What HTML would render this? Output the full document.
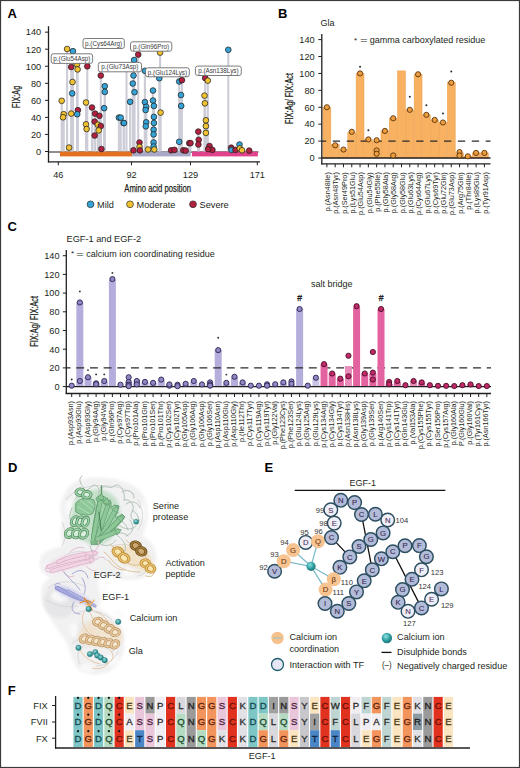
<!DOCTYPE html><html><head><meta charset="utf-8"><style>html,body{margin:0;padding:0;background:#fff;}svg{display:block;}text{font-family:"Liberation Sans", sans-serif;}</style></head><body>
<svg width="520" height="768" viewBox="0 0 520 768">
<rect x="0.00" y="0.00" width="520.00" height="768.00" fill="#fff" />
<text x="7.60" y="17.60" font-size="13" text-anchor="start" fill="#000" font-weight="bold" >A</text>
<text x="277.90" y="17.50" font-size="13" text-anchor="start" fill="#000" font-weight="bold" >B</text>
<text x="7.40" y="230.60" font-size="13" text-anchor="start" fill="#000" font-weight="bold" >C</text>
<text x="7.90" y="472.00" font-size="13" text-anchor="start" fill="#000" font-weight="bold" >D</text>
<text x="264.40" y="472.00" font-size="13" text-anchor="start" fill="#000" font-weight="bold" >E</text>
<text x="7.80" y="695.10" font-size="13" text-anchor="start" fill="#000" font-weight="bold" >F</text>
<line x1="48.50" y1="151.90" x2="258.50" y2="151.90" stroke="#6a6a6a" stroke-width="1.5" />
<line x1="67.10" y1="49.00" x2="67.10" y2="151.50" stroke="#cdcdd8" stroke-width="2.1" />
<line x1="72.90" y1="51.20" x2="72.90" y2="151.50" stroke="#cdcdd8" stroke-width="2.1" />
<line x1="71.20" y1="67.00" x2="71.20" y2="151.50" stroke="#cdcdd8" stroke-width="2.1" />
<line x1="77.00" y1="64.30" x2="77.00" y2="151.50" stroke="#cdcdd8" stroke-width="2.1" />
<line x1="77.60" y1="69.40" x2="77.60" y2="151.50" stroke="#cdcdd8" stroke-width="2.1" />
<line x1="87.30" y1="66.30" x2="87.30" y2="151.50" stroke="#cdcdd8" stroke-width="2.1" />
<line x1="100.80" y1="75.50" x2="100.80" y2="151.50" stroke="#cdcdd8" stroke-width="2.1" />
<line x1="72.50" y1="82.00" x2="72.50" y2="151.50" stroke="#cdcdd8" stroke-width="2.1" />
<line x1="104.80" y1="86.20" x2="104.80" y2="151.50" stroke="#cdcdd8" stroke-width="2.1" />
<line x1="104.80" y1="91.90" x2="104.80" y2="151.50" stroke="#cdcdd8" stroke-width="2.1" />
<line x1="72.20" y1="93.40" x2="72.20" y2="151.50" stroke="#cdcdd8" stroke-width="2.1" />
<line x1="61.70" y1="100.80" x2="61.70" y2="151.50" stroke="#cdcdd8" stroke-width="2.1" />
<line x1="86.00" y1="102.50" x2="86.00" y2="151.50" stroke="#cdcdd8" stroke-width="2.1" />
<line x1="92.00" y1="107.50" x2="92.00" y2="151.50" stroke="#cdcdd8" stroke-width="2.1" />
<line x1="104.10" y1="108.20" x2="104.10" y2="151.50" stroke="#cdcdd8" stroke-width="2.1" />
<line x1="77.90" y1="110.20" x2="77.90" y2="151.50" stroke="#cdcdd8" stroke-width="2.1" />
<line x1="63.70" y1="114.20" x2="63.70" y2="151.50" stroke="#cdcdd8" stroke-width="2.1" />
<line x1="63.10" y1="117.30" x2="63.10" y2="151.50" stroke="#cdcdd8" stroke-width="2.1" />
<line x1="71.20" y1="113.60" x2="71.20" y2="151.50" stroke="#cdcdd8" stroke-width="2.1" />
<line x1="77.20" y1="114.20" x2="77.20" y2="151.50" stroke="#cdcdd8" stroke-width="2.1" />
<line x1="95.10" y1="113.60" x2="95.10" y2="151.50" stroke="#cdcdd8" stroke-width="2.1" />
<line x1="99.40" y1="115.80" x2="99.40" y2="151.50" stroke="#cdcdd8" stroke-width="2.1" />
<line x1="118.90" y1="117.60" x2="118.90" y2="151.50" stroke="#cdcdd8" stroke-width="2.1" />
<line x1="123.60" y1="123.00" x2="123.60" y2="151.50" stroke="#cdcdd8" stroke-width="2.1" />
<line x1="94.70" y1="121.60" x2="94.70" y2="151.50" stroke="#cdcdd8" stroke-width="2.1" />
<line x1="97.80" y1="124.70" x2="97.80" y2="151.50" stroke="#cdcdd8" stroke-width="2.1" />
<line x1="100.80" y1="126.00" x2="100.80" y2="151.50" stroke="#cdcdd8" stroke-width="2.1" />
<line x1="86.00" y1="124.30" x2="86.00" y2="151.50" stroke="#cdcdd8" stroke-width="2.1" />
<line x1="86.60" y1="129.00" x2="86.60" y2="151.50" stroke="#cdcdd8" stroke-width="2.1" />
<line x1="98.70" y1="130.40" x2="98.70" y2="151.50" stroke="#cdcdd8" stroke-width="2.1" />
<line x1="94.70" y1="135.50" x2="94.70" y2="151.50" stroke="#cdcdd8" stroke-width="2.1" />
<line x1="69.10" y1="147.60" x2="69.10" y2="151.50" stroke="#cdcdd8" stroke-width="2.1" />
<line x1="101.40" y1="149.00" x2="101.40" y2="151.50" stroke="#cdcdd8" stroke-width="2.1" />
<line x1="138.20" y1="54.60" x2="138.20" y2="151.50" stroke="#cdcdd8" stroke-width="2.1" />
<line x1="160.10" y1="52.60" x2="160.10" y2="151.50" stroke="#cdcdd8" stroke-width="2.1" />
<line x1="134.10" y1="60.00" x2="134.10" y2="151.50" stroke="#cdcdd8" stroke-width="2.1" />
<line x1="133.50" y1="75.50" x2="133.50" y2="151.50" stroke="#cdcdd8" stroke-width="2.1" />
<line x1="132.80" y1="83.50" x2="132.80" y2="151.50" stroke="#cdcdd8" stroke-width="2.1" />
<line x1="134.50" y1="92.20" x2="134.50" y2="151.50" stroke="#cdcdd8" stroke-width="2.1" />
<line x1="153.00" y1="90.50" x2="153.00" y2="151.50" stroke="#cdcdd8" stroke-width="2.1" />
<line x1="159.30" y1="78.20" x2="159.30" y2="151.50" stroke="#cdcdd8" stroke-width="2.1" />
<line x1="179.20" y1="81.50" x2="179.20" y2="151.50" stroke="#cdcdd8" stroke-width="2.1" />
<line x1="181.90" y1="80.20" x2="181.90" y2="151.50" stroke="#cdcdd8" stroke-width="2.1" />
<line x1="181.00" y1="95.00" x2="181.00" y2="151.50" stroke="#cdcdd8" stroke-width="2.1" />
<line x1="144.90" y1="70.80" x2="144.90" y2="151.50" stroke="#cdcdd8" stroke-width="2.1" />
<line x1="126.50" y1="67.00" x2="126.50" y2="151.50" stroke="#cdcdd8" stroke-width="2.1" />
<line x1="130.10" y1="101.80" x2="130.10" y2="151.50" stroke="#cdcdd8" stroke-width="2.1" />
<line x1="144.90" y1="102.10" x2="144.90" y2="151.50" stroke="#cdcdd8" stroke-width="2.1" />
<line x1="153.00" y1="100.50" x2="153.00" y2="151.50" stroke="#cdcdd8" stroke-width="2.1" />
<line x1="146.20" y1="106.80" x2="146.20" y2="151.50" stroke="#cdcdd8" stroke-width="2.1" />
<line x1="145.60" y1="110.00" x2="145.60" y2="151.50" stroke="#cdcdd8" stroke-width="2.1" />
<line x1="153.90" y1="105.90" x2="153.90" y2="151.50" stroke="#cdcdd8" stroke-width="2.1" />
<line x1="181.20" y1="105.90" x2="181.20" y2="151.50" stroke="#cdcdd8" stroke-width="2.1" />
<line x1="160.60" y1="112.60" x2="160.60" y2="151.50" stroke="#cdcdd8" stroke-width="2.1" />
<line x1="120.70" y1="117.60" x2="120.70" y2="151.50" stroke="#cdcdd8" stroke-width="2.1" />
<line x1="124.00" y1="123.00" x2="124.00" y2="151.50" stroke="#cdcdd8" stroke-width="2.1" />
<line x1="153.90" y1="116.90" x2="153.90" y2="151.50" stroke="#cdcdd8" stroke-width="2.1" />
<line x1="146.20" y1="122.30" x2="146.20" y2="151.50" stroke="#cdcdd8" stroke-width="2.1" />
<line x1="145.80" y1="126.30" x2="145.80" y2="151.50" stroke="#cdcdd8" stroke-width="2.1" />
<line x1="153.90" y1="123.00" x2="153.90" y2="151.50" stroke="#cdcdd8" stroke-width="2.1" />
<line x1="153.60" y1="129.70" x2="153.60" y2="151.50" stroke="#cdcdd8" stroke-width="2.1" />
<line x1="153.60" y1="134.40" x2="153.60" y2="151.50" stroke="#cdcdd8" stroke-width="2.1" />
<line x1="153.60" y1="142.50" x2="153.60" y2="151.50" stroke="#cdcdd8" stroke-width="2.1" />
<line x1="179.20" y1="141.80" x2="179.20" y2="151.50" stroke="#cdcdd8" stroke-width="2.1" />
<line x1="139.50" y1="142.50" x2="139.50" y2="151.50" stroke="#cdcdd8" stroke-width="2.1" />
<line x1="139.50" y1="146.80" x2="139.50" y2="151.50" stroke="#cdcdd8" stroke-width="2.1" />
<line x1="153.60" y1="146.50" x2="153.60" y2="151.50" stroke="#cdcdd8" stroke-width="2.1" />
<line x1="133.50" y1="150.30" x2="133.50" y2="151.50" stroke="#cdcdd8" stroke-width="2.1" />
<line x1="139.90" y1="150.30" x2="139.90" y2="151.50" stroke="#cdcdd8" stroke-width="2.1" />
<line x1="148.00" y1="149.50" x2="148.00" y2="151.50" stroke="#cdcdd8" stroke-width="2.1" />
<line x1="154.30" y1="149.50" x2="154.30" y2="151.50" stroke="#cdcdd8" stroke-width="2.1" />
<line x1="171.10" y1="150.30" x2="171.10" y2="151.50" stroke="#cdcdd8" stroke-width="2.1" />
<line x1="174.50" y1="149.90" x2="174.50" y2="151.50" stroke="#cdcdd8" stroke-width="2.1" />
<line x1="183.30" y1="150.30" x2="183.30" y2="151.50" stroke="#cdcdd8" stroke-width="2.1" />
<line x1="189.30" y1="143.20" x2="189.30" y2="151.50" stroke="#cdcdd8" stroke-width="2.1" />
<line x1="228.30" y1="49.80" x2="228.30" y2="151.50" stroke="#cdcdd8" stroke-width="2.1" />
<line x1="205.20" y1="78.10" x2="205.20" y2="151.50" stroke="#cdcdd8" stroke-width="2.1" />
<line x1="207.80" y1="80.60" x2="207.80" y2="151.50" stroke="#cdcdd8" stroke-width="2.1" />
<line x1="204.50" y1="95.60" x2="204.50" y2="151.50" stroke="#cdcdd8" stroke-width="2.1" />
<line x1="204.90" y1="103.30" x2="204.90" y2="151.50" stroke="#cdcdd8" stroke-width="2.1" />
<line x1="205.90" y1="120.30" x2="205.90" y2="151.50" stroke="#cdcdd8" stroke-width="2.1" />
<line x1="205.90" y1="126.10" x2="205.90" y2="151.50" stroke="#cdcdd8" stroke-width="2.1" />
<line x1="205.90" y1="132.90" x2="205.90" y2="151.50" stroke="#cdcdd8" stroke-width="2.1" />
<line x1="198.30" y1="131.60" x2="198.30" y2="151.50" stroke="#cdcdd8" stroke-width="2.1" />
<line x1="190.50" y1="143.10" x2="190.50" y2="151.50" stroke="#cdcdd8" stroke-width="2.1" />
<line x1="198.70" y1="139.80" x2="198.70" y2="151.50" stroke="#cdcdd8" stroke-width="2.1" />
<line x1="198.40" y1="144.50" x2="198.40" y2="151.50" stroke="#cdcdd8" stroke-width="2.1" />
<line x1="209.50" y1="146.00" x2="209.50" y2="151.50" stroke="#cdcdd8" stroke-width="2.1" />
<line x1="212.40" y1="149.90" x2="212.40" y2="151.50" stroke="#cdcdd8" stroke-width="2.1" />
<line x1="208.10" y1="149.20" x2="208.10" y2="151.50" stroke="#cdcdd8" stroke-width="2.1" />
<line x1="231.20" y1="147.70" x2="231.20" y2="151.50" stroke="#cdcdd8" stroke-width="2.1" />
<line x1="231.50" y1="149.90" x2="231.50" y2="151.50" stroke="#cdcdd8" stroke-width="2.1" />
<line x1="235.50" y1="149.90" x2="235.50" y2="151.50" stroke="#cdcdd8" stroke-width="2.1" />
<line x1="239.50" y1="144.50" x2="239.50" y2="151.50" stroke="#cdcdd8" stroke-width="2.1" />
<line x1="239.80" y1="148.40" x2="239.80" y2="151.50" stroke="#cdcdd8" stroke-width="2.1" />
<line x1="242.00" y1="150.30" x2="242.00" y2="151.50" stroke="#cdcdd8" stroke-width="2.1" />
<line x1="249.20" y1="150.60" x2="249.20" y2="151.50" stroke="#cdcdd8" stroke-width="2.1" />
<line x1="185.70" y1="150.60" x2="185.70" y2="151.50" stroke="#cdcdd8" stroke-width="2.1" />
<rect x="59.90" y="151.60" width="72.30" height="4.80" fill="#e3701f" />
<rect x="132.20" y="151.60" width="58.40" height="4.80" fill="#a9a8c6" />
<rect x="192.00" y="151.60" width="65.90" height="4.80" fill="#e2428b" />
<circle cx="67.10" cy="49.00" r="2.85" fill="#f1c232" stroke="#222" stroke-width="0.75" />
<circle cx="72.90" cy="51.20" r="2.85" fill="#35a3d6" stroke="#222" stroke-width="0.75" />
<circle cx="71.20" cy="67.00" r="2.85" fill="#b2203f" stroke="#222" stroke-width="0.75" />
<circle cx="77.00" cy="64.30" r="2.85" fill="#f1c232" stroke="#222" stroke-width="0.75" />
<circle cx="77.60" cy="69.40" r="2.85" fill="#f1c232" stroke="#222" stroke-width="0.75" />
<circle cx="87.30" cy="66.30" r="2.85" fill="#b2203f" stroke="#222" stroke-width="0.75" />
<circle cx="100.80" cy="75.50" r="2.85" fill="#b2203f" stroke="#222" stroke-width="0.75" />
<circle cx="72.50" cy="82.00" r="2.85" fill="#f1c232" stroke="#222" stroke-width="0.75" />
<circle cx="104.80" cy="86.20" r="2.85" fill="#35a3d6" stroke="#222" stroke-width="0.75" />
<circle cx="104.80" cy="91.90" r="2.85" fill="#35a3d6" stroke="#222" stroke-width="0.75" />
<circle cx="72.20" cy="93.40" r="2.85" fill="#35a3d6" stroke="#222" stroke-width="0.75" />
<circle cx="61.70" cy="100.80" r="2.85" fill="#f1c232" stroke="#222" stroke-width="0.75" />
<circle cx="86.00" cy="102.50" r="2.85" fill="#f1c232" stroke="#222" stroke-width="0.75" />
<circle cx="92.00" cy="107.50" r="2.85" fill="#b2203f" stroke="#222" stroke-width="0.75" />
<circle cx="104.10" cy="108.20" r="2.85" fill="#35a3d6" stroke="#222" stroke-width="0.75" />
<circle cx="77.90" cy="110.20" r="2.85" fill="#b2203f" stroke="#222" stroke-width="0.75" />
<circle cx="63.70" cy="114.20" r="2.85" fill="#f1c232" stroke="#222" stroke-width="0.75" />
<circle cx="63.10" cy="117.30" r="2.85" fill="#f1c232" stroke="#222" stroke-width="0.75" />
<circle cx="71.20" cy="113.60" r="2.85" fill="#f1c232" stroke="#222" stroke-width="0.75" />
<circle cx="77.20" cy="114.20" r="2.85" fill="#35a3d6" stroke="#222" stroke-width="0.75" />
<circle cx="95.10" cy="113.60" r="2.85" fill="#b2203f" stroke="#222" stroke-width="0.75" />
<circle cx="99.40" cy="115.80" r="2.85" fill="#b2203f" stroke="#222" stroke-width="0.75" />
<circle cx="118.90" cy="117.60" r="2.85" fill="#35a3d6" stroke="#222" stroke-width="0.75" />
<circle cx="123.60" cy="123.00" r="2.85" fill="#35a3d6" stroke="#222" stroke-width="0.75" />
<circle cx="94.70" cy="121.60" r="2.85" fill="#b2203f" stroke="#222" stroke-width="0.75" />
<circle cx="97.80" cy="124.70" r="2.85" fill="#f1c232" stroke="#222" stroke-width="0.75" />
<circle cx="100.80" cy="126.00" r="2.85" fill="#b2203f" stroke="#222" stroke-width="0.75" />
<circle cx="86.00" cy="124.30" r="2.85" fill="#f1c232" stroke="#222" stroke-width="0.75" />
<circle cx="86.60" cy="129.00" r="2.85" fill="#f1c232" stroke="#222" stroke-width="0.75" />
<circle cx="98.70" cy="130.40" r="2.85" fill="#f1c232" stroke="#222" stroke-width="0.75" />
<circle cx="94.70" cy="135.50" r="2.85" fill="#b2203f" stroke="#222" stroke-width="0.75" />
<circle cx="69.10" cy="147.60" r="2.85" fill="#f1c232" stroke="#222" stroke-width="0.75" />
<circle cx="101.40" cy="149.00" r="2.85" fill="#b2203f" stroke="#222" stroke-width="0.75" />
<circle cx="138.20" cy="54.60" r="2.85" fill="#b2203f" stroke="#222" stroke-width="0.75" />
<circle cx="160.10" cy="52.60" r="2.85" fill="#f1c232" stroke="#222" stroke-width="0.75" />
<circle cx="134.10" cy="60.00" r="2.85" fill="#35a3d6" stroke="#222" stroke-width="0.75" />
<circle cx="133.50" cy="75.50" r="2.85" fill="#35a3d6" stroke="#222" stroke-width="0.75" />
<circle cx="132.80" cy="83.50" r="2.85" fill="#35a3d6" stroke="#222" stroke-width="0.75" />
<circle cx="134.50" cy="92.20" r="2.85" fill="#35a3d6" stroke="#222" stroke-width="0.75" />
<circle cx="153.00" cy="90.50" r="2.85" fill="#35a3d6" stroke="#222" stroke-width="0.75" />
<circle cx="159.30" cy="78.20" r="2.85" fill="#35a3d6" stroke="#222" stroke-width="0.75" />
<circle cx="179.20" cy="81.50" r="2.85" fill="#35a3d6" stroke="#222" stroke-width="0.75" />
<circle cx="181.90" cy="80.20" r="2.85" fill="#b2203f" stroke="#222" stroke-width="0.75" />
<circle cx="181.00" cy="95.00" r="2.85" fill="#35a3d6" stroke="#222" stroke-width="0.75" />
<circle cx="144.90" cy="70.80" r="2.85" fill="#35a3d6" stroke="#222" stroke-width="0.75" />
<circle cx="126.50" cy="67.00" r="2.85" fill="#35a3d6" stroke="#222" stroke-width="0.75" />
<circle cx="130.10" cy="101.80" r="2.85" fill="#35a3d6" stroke="#222" stroke-width="0.75" />
<circle cx="144.90" cy="102.10" r="2.85" fill="#35a3d6" stroke="#222" stroke-width="0.75" />
<circle cx="153.00" cy="100.50" r="2.85" fill="#35a3d6" stroke="#222" stroke-width="0.75" />
<circle cx="146.20" cy="106.80" r="2.85" fill="#35a3d6" stroke="#222" stroke-width="0.75" />
<circle cx="145.60" cy="110.00" r="2.85" fill="#35a3d6" stroke="#222" stroke-width="0.75" />
<circle cx="153.90" cy="105.90" r="2.85" fill="#35a3d6" stroke="#222" stroke-width="0.75" />
<circle cx="181.20" cy="105.90" r="2.85" fill="#35a3d6" stroke="#222" stroke-width="0.75" />
<circle cx="160.60" cy="112.60" r="2.85" fill="#f1c232" stroke="#222" stroke-width="0.75" />
<circle cx="120.70" cy="117.60" r="2.85" fill="#35a3d6" stroke="#222" stroke-width="0.75" />
<circle cx="124.00" cy="123.00" r="2.85" fill="#35a3d6" stroke="#222" stroke-width="0.75" />
<circle cx="153.90" cy="116.90" r="2.85" fill="#35a3d6" stroke="#222" stroke-width="0.75" />
<circle cx="146.20" cy="122.30" r="2.85" fill="#35a3d6" stroke="#222" stroke-width="0.75" />
<circle cx="145.80" cy="126.30" r="2.85" fill="#35a3d6" stroke="#222" stroke-width="0.75" />
<circle cx="153.90" cy="123.00" r="2.85" fill="#35a3d6" stroke="#222" stroke-width="0.75" />
<circle cx="153.60" cy="129.70" r="2.85" fill="#35a3d6" stroke="#222" stroke-width="0.75" />
<circle cx="153.60" cy="134.40" r="2.85" fill="#35a3d6" stroke="#222" stroke-width="0.75" />
<circle cx="153.60" cy="142.50" r="2.85" fill="#35a3d6" stroke="#222" stroke-width="0.75" />
<circle cx="179.20" cy="141.80" r="2.85" fill="#35a3d6" stroke="#222" stroke-width="0.75" />
<circle cx="139.50" cy="142.50" r="2.85" fill="#b2203f" stroke="#222" stroke-width="0.75" />
<circle cx="139.50" cy="146.80" r="2.85" fill="#f1c232" stroke="#222" stroke-width="0.75" />
<circle cx="153.60" cy="146.50" r="2.85" fill="#35a3d6" stroke="#222" stroke-width="0.75" />
<circle cx="133.50" cy="150.30" r="2.85" fill="#b2203f" stroke="#222" stroke-width="0.75" />
<circle cx="139.90" cy="150.30" r="2.85" fill="#b2203f" stroke="#222" stroke-width="0.75" />
<circle cx="148.00" cy="149.50" r="2.85" fill="#f1c232" stroke="#222" stroke-width="0.75" />
<circle cx="154.30" cy="149.50" r="2.85" fill="#f1c232" stroke="#222" stroke-width="0.75" />
<circle cx="171.10" cy="150.30" r="2.85" fill="#b2203f" stroke="#222" stroke-width="0.75" />
<circle cx="174.50" cy="149.90" r="2.85" fill="#b2203f" stroke="#222" stroke-width="0.75" />
<circle cx="183.30" cy="150.30" r="2.85" fill="#b2203f" stroke="#222" stroke-width="0.75" />
<circle cx="189.30" cy="143.20" r="2.85" fill="#b2203f" stroke="#222" stroke-width="0.75" />
<circle cx="228.30" cy="49.80" r="2.85" fill="#35a3d6" stroke="#222" stroke-width="0.75" />
<circle cx="205.20" cy="78.10" r="2.85" fill="#b2203f" stroke="#222" stroke-width="0.75" />
<circle cx="207.80" cy="80.60" r="2.85" fill="#f1c232" stroke="#222" stroke-width="0.75" />
<circle cx="204.50" cy="95.60" r="2.85" fill="#f1c232" stroke="#222" stroke-width="0.75" />
<circle cx="204.90" cy="103.30" r="2.85" fill="#f1c232" stroke="#222" stroke-width="0.75" />
<circle cx="205.90" cy="120.30" r="2.85" fill="#f1c232" stroke="#222" stroke-width="0.75" />
<circle cx="205.90" cy="126.10" r="2.85" fill="#f1c232" stroke="#222" stroke-width="0.75" />
<circle cx="205.90" cy="132.90" r="2.85" fill="#f1c232" stroke="#222" stroke-width="0.75" />
<circle cx="198.30" cy="131.60" r="2.85" fill="#b2203f" stroke="#222" stroke-width="0.75" />
<circle cx="190.50" cy="143.10" r="2.85" fill="#b2203f" stroke="#222" stroke-width="0.75" />
<circle cx="198.70" cy="139.80" r="2.85" fill="#b2203f" stroke="#222" stroke-width="0.75" />
<circle cx="198.40" cy="144.50" r="2.85" fill="#b2203f" stroke="#222" stroke-width="0.75" />
<circle cx="209.50" cy="146.00" r="2.85" fill="#b2203f" stroke="#222" stroke-width="0.75" />
<circle cx="212.40" cy="149.90" r="2.85" fill="#b2203f" stroke="#222" stroke-width="0.75" />
<circle cx="208.10" cy="149.20" r="2.85" fill="#b2203f" stroke="#222" stroke-width="0.75" />
<circle cx="231.20" cy="147.70" r="2.85" fill="#b2203f" stroke="#222" stroke-width="0.75" />
<circle cx="231.50" cy="149.90" r="2.85" fill="#35a3d6" stroke="#222" stroke-width="0.75" />
<circle cx="235.50" cy="149.90" r="2.85" fill="#b2203f" stroke="#222" stroke-width="0.75" />
<circle cx="239.50" cy="144.50" r="2.85" fill="#35a3d6" stroke="#222" stroke-width="0.75" />
<circle cx="239.80" cy="148.40" r="2.85" fill="#f1c232" stroke="#222" stroke-width="0.75" />
<circle cx="242.00" cy="150.30" r="2.85" fill="#f1c232" stroke="#222" stroke-width="0.75" />
<circle cx="249.20" cy="150.60" r="2.85" fill="#b2203f" stroke="#222" stroke-width="0.75" />
<circle cx="185.70" cy="150.60" r="2.85" fill="#b2203f" stroke="#222" stroke-width="0.75" />
<rect x="83.00" y="38.50" width="41.30" height="10.00" rx="2.2" fill="#fff" stroke="#5a5a5a" stroke-width="0.8"/>
<text x="103.65" y="45.70" font-size="6.3" text-anchor="middle" fill="#3a3a3a" font-weight="normal" >p.(Cys64Arg)</text>
<rect x="51.20" y="53.80" width="41.40" height="9.60" rx="2.2" fill="#fff" stroke="#5a5a5a" stroke-width="0.8"/>
<text x="71.90" y="60.80" font-size="6.3" text-anchor="middle" fill="#3a3a3a" font-weight="normal" >p.(Glu54Asp)</text>
<rect x="98.30" y="62.40" width="43.20" height="9.40" rx="2.2" fill="#fff" stroke="#5a5a5a" stroke-width="0.8"/>
<text x="119.90" y="69.30" font-size="6.3" text-anchor="middle" fill="#3a3a3a" font-weight="normal" >p.(Glu73Asp)</text>
<rect x="130.50" y="41.80" width="41.30" height="9.40" rx="2.2" fill="#fff" stroke="#5a5a5a" stroke-width="0.8"/>
<text x="151.15" y="48.70" font-size="6.3" text-anchor="middle" fill="#3a3a3a" font-weight="normal" >p.(Gln96Pro)</text>
<rect x="145.60" y="67.80" width="43.70" height="9.00" rx="2.2" fill="#fff" stroke="#5a5a5a" stroke-width="0.8"/>
<text x="167.45" y="74.50" font-size="6.3" text-anchor="middle" fill="#3a3a3a" font-weight="normal" >p.(Glu124Lys)</text>
<rect x="195.40" y="66.10" width="45.90" height="9.40" rx="2.2" fill="#fff" stroke="#5a5a5a" stroke-width="0.8"/>
<text x="218.35" y="73.00" font-size="6.3" text-anchor="middle" fill="#3a3a3a" font-weight="normal" >p.(Asn138Lys)</text>
<line x1="48.50" y1="26.20" x2="48.50" y2="162.40" stroke="#231f20" stroke-width="1.3" />
<line x1="47.85" y1="161.80" x2="260.00" y2="161.80" stroke="#231f20" stroke-width="1.3" />
<line x1="45.00" y1="151.50" x2="48.50" y2="151.50" stroke="#231f20" stroke-width="1.0" />
<text x="41.20" y="154.80" font-size="9.2" text-anchor="end" fill="#231f20" font-weight="normal" >0</text>
<line x1="45.00" y1="134.45" x2="48.50" y2="134.45" stroke="#231f20" stroke-width="1.0" />
<text x="41.20" y="137.75" font-size="9.2" text-anchor="end" fill="#231f20" font-weight="normal" >20</text>
<line x1="45.00" y1="117.40" x2="48.50" y2="117.40" stroke="#231f20" stroke-width="1.0" />
<text x="41.20" y="120.70" font-size="9.2" text-anchor="end" fill="#231f20" font-weight="normal" >40</text>
<line x1="45.00" y1="100.35" x2="48.50" y2="100.35" stroke="#231f20" stroke-width="1.0" />
<text x="41.20" y="103.65" font-size="9.2" text-anchor="end" fill="#231f20" font-weight="normal" >60</text>
<line x1="45.00" y1="83.30" x2="48.50" y2="83.30" stroke="#231f20" stroke-width="1.0" />
<text x="41.20" y="86.60" font-size="9.2" text-anchor="end" fill="#231f20" font-weight="normal" >80</text>
<line x1="45.00" y1="66.25" x2="48.50" y2="66.25" stroke="#231f20" stroke-width="1.0" />
<text x="41.20" y="69.55" font-size="9.2" text-anchor="end" fill="#231f20" font-weight="normal" >100</text>
<line x1="45.00" y1="49.20" x2="48.50" y2="49.20" stroke="#231f20" stroke-width="1.0" />
<text x="41.20" y="52.50" font-size="9.2" text-anchor="end" fill="#231f20" font-weight="normal" >120</text>
<line x1="45.00" y1="32.15" x2="48.50" y2="32.15" stroke="#231f20" stroke-width="1.0" />
<text x="41.20" y="35.45" font-size="9.2" text-anchor="end" fill="#231f20" font-weight="normal" >140</text>
<line x1="58.30" y1="161.80" x2="58.30" y2="165.30" stroke="#231f20" stroke-width="1.0" />
<text x="58.30" y="177.70" font-size="9.2" text-anchor="middle" fill="#231f20" font-weight="normal" >46</text>
<line x1="131.53" y1="161.80" x2="131.53" y2="165.30" stroke="#231f20" stroke-width="1.0" />
<text x="131.53" y="177.70" font-size="9.2" text-anchor="middle" fill="#231f20" font-weight="normal" >92</text>
<line x1="190.44" y1="161.80" x2="190.44" y2="165.30" stroke="#231f20" stroke-width="1.0" />
<text x="190.44" y="177.70" font-size="9.2" text-anchor="middle" fill="#231f20" font-weight="normal" >129</text>
<line x1="257.30" y1="161.80" x2="257.30" y2="165.30" stroke="#231f20" stroke-width="1.0" />
<text x="257.30" y="177.70" font-size="9.2" text-anchor="middle" fill="#231f20" font-weight="normal" >171</text>
<text x="124.30" y="192.40" font-size="10.6" text-anchor="start" fill="#231f20" font-weight="normal" textLength="66.7" lengthAdjust="spacingAndGlyphs" stroke="#231f20" stroke-width="0.25">Amino acid position</text>
<text transform="translate(19.6,107.9) rotate(-90)" font-size="10.6" fill="#231f20" stroke="#231f20" stroke-width="0.25" textLength="22.1" lengthAdjust="spacingAndGlyphs">FIX:Ag</text>
<circle cx="90.50" cy="204.30" r="3.4" fill="#35a3d6" stroke="#2b2b2b" stroke-width="0.7" />
<text x="97.10" y="207.60" font-size="9.2" text-anchor="start" fill="#231f20" font-weight="normal" >Mild</text>
<circle cx="130.00" cy="204.30" r="3.4" fill="#f1c232" stroke="#2b2b2b" stroke-width="0.7" />
<text x="136.60" y="207.60" font-size="9.2" text-anchor="start" fill="#231f20" font-weight="normal" >Moderate</text>
<circle cx="193.00" cy="204.30" r="3.4" fill="#b2203f" stroke="#2b2b2b" stroke-width="0.7" />
<text x="199.60" y="207.60" font-size="9.2" text-anchor="start" fill="#231f20" font-weight="normal" >Severe</text>
<text x="320.40" y="25.90" font-size="9" text-anchor="start" fill="#231f20" font-weight="normal" >Gla</text>
<text x="354.00" y="42.60" font-size="8" text-anchor="start" fill="#231f20" font-weight="normal" >*</text>
<text x="360.00" y="42.50" font-size="9" text-anchor="start" fill="#231f20" font-weight="normal" textLength="7.6" lengthAdjust="spacingAndGlyphs">=</text>
<text x="369.70" y="42.50" font-size="9" text-anchor="start" fill="#231f20" font-weight="normal" >gamma carboxylated residue</text>
<rect x="322.95" y="107.26" width="7.89" height="50.74" fill="#f7b160" stroke="#eb9d48" stroke-width="0.5"/>
<rect x="331.25" y="144.47" width="7.89" height="13.53" fill="#f7b160" stroke="#eb9d48" stroke-width="0.5"/>
<rect x="339.53" y="149.54" width="7.89" height="8.46" fill="#f7b160" stroke="#eb9d48" stroke-width="0.5"/>
<rect x="347.82" y="132.63" width="7.89" height="25.37" fill="#f7b160" stroke="#eb9d48" stroke-width="0.5"/>
<rect x="356.11" y="73.43" width="7.89" height="84.57" fill="#f7b160" stroke="#eb9d48" stroke-width="0.5"/>
<rect x="364.40" y="139.39" width="7.89" height="18.61" fill="#f7b160" stroke="#eb9d48" stroke-width="0.5"/>
<rect x="372.69" y="141.09" width="7.89" height="16.91" fill="#f7b160" stroke="#eb9d48" stroke-width="0.5"/>
<rect x="380.98" y="130.94" width="7.89" height="27.06" fill="#f7b160" stroke="#eb9d48" stroke-width="0.5"/>
<rect x="389.27" y="118.25" width="7.89" height="39.75" fill="#f7b160" stroke="#eb9d48" stroke-width="0.5"/>
<rect x="397.56" y="70.89" width="7.89" height="87.11" fill="#f7b160" stroke="#eb9d48" stroke-width="0.5"/>
<rect x="405.85" y="109.80" width="7.89" height="48.20" fill="#f7b160" stroke="#eb9d48" stroke-width="0.5"/>
<rect x="414.14" y="74.28" width="7.89" height="83.72" fill="#f7b160" stroke="#eb9d48" stroke-width="0.5"/>
<rect x="422.44" y="114.87" width="7.89" height="43.13" fill="#f7b160" stroke="#eb9d48" stroke-width="0.5"/>
<rect x="430.72" y="119.94" width="7.89" height="38.06" fill="#f7b160" stroke="#eb9d48" stroke-width="0.5"/>
<rect x="439.01" y="122.48" width="7.89" height="35.52" fill="#f7b160" stroke="#eb9d48" stroke-width="0.5"/>
<rect x="447.31" y="82.73" width="7.89" height="75.27" fill="#f7b160" stroke="#eb9d48" stroke-width="0.5"/>
<rect x="455.59" y="152.93" width="7.89" height="5.07" fill="#f7b160" stroke="#eb9d48" stroke-width="0.5"/>
<rect x="463.88" y="156.31" width="7.89" height="1.69" fill="#f7b160" stroke="#eb9d48" stroke-width="0.5"/>
<rect x="472.17" y="152.93" width="7.89" height="5.07" fill="#f7b160" stroke="#eb9d48" stroke-width="0.5"/>
<rect x="480.46" y="152.93" width="7.89" height="5.07" fill="#f7b160" stroke="#eb9d48" stroke-width="0.5"/>
<line x1="321.80" y1="141.09" x2="490.50" y2="141.09" stroke="#2a2a2a" stroke-width="1.2" stroke-dasharray="7.3 6.6" stroke-dashoffset="2.9"/>
<line x1="321.80" y1="158.00" x2="490.50" y2="158.00" stroke="#222" stroke-width="1.4" />
<circle cx="326.90" cy="107.26" r="2.6" fill="#eb9e40" stroke="#5e3208" stroke-width="0.9" />
<circle cx="335.19" cy="145.31" r="2.6" fill="#eb9e40" stroke="#5e3208" stroke-width="0.9" />
<circle cx="343.48" cy="149.54" r="2.6" fill="#eb9e40" stroke="#5e3208" stroke-width="0.9" />
<circle cx="351.77" cy="131.78" r="2.6" fill="#eb9e40" stroke="#5e3208" stroke-width="0.9" />
<circle cx="360.06" cy="73.43" r="2.6" fill="#eb9e40" stroke="#5e3208" stroke-width="0.9" />
<circle cx="360.06" cy="66.80" r="1.0" fill="#2a2a2a" stroke="none" stroke-width="0" />
<circle cx="368.35" cy="139.39" r="2.6" fill="#eb9e40" stroke="#5e3208" stroke-width="0.9" />
<circle cx="368.35" cy="130.30" r="1.0" fill="#2a2a2a" stroke="none" stroke-width="0" />
<circle cx="376.64" cy="140.24" r="2.6" fill="#eb9e40" stroke="#5e3208" stroke-width="0.9" />
<circle cx="376.64" cy="150.39" r="2.6" fill="#eb9e40" stroke="#5e3208" stroke-width="0.9" />
<circle cx="376.64" cy="153.77" r="2.6" fill="#eb9e40" stroke="#5e3208" stroke-width="0.9" />
<circle cx="384.93" cy="130.94" r="2.6" fill="#eb9e40" stroke="#5e3208" stroke-width="0.9" />
<circle cx="393.22" cy="118.25" r="2.6" fill="#eb9e40" stroke="#5e3208" stroke-width="0.9" />
<circle cx="393.22" cy="155.46" r="2.6" fill="#eb9e40" stroke="#5e3208" stroke-width="0.9" />
<circle cx="409.80" cy="109.80" r="2.6" fill="#eb9e40" stroke="#5e3208" stroke-width="0.9" />
<circle cx="409.80" cy="96.80" r="1.0" fill="#2a2a2a" stroke="none" stroke-width="0" />
<circle cx="418.09" cy="74.28" r="2.6" fill="#eb9e40" stroke="#5e3208" stroke-width="0.9" />
<circle cx="426.38" cy="114.87" r="2.6" fill="#eb9e40" stroke="#5e3208" stroke-width="0.9" />
<circle cx="426.38" cy="105.20" r="1.0" fill="#2a2a2a" stroke="none" stroke-width="0" />
<circle cx="434.67" cy="119.94" r="2.6" fill="#eb9e40" stroke="#5e3208" stroke-width="0.9" />
<circle cx="442.96" cy="122.48" r="2.6" fill="#eb9e40" stroke="#5e3208" stroke-width="0.9" />
<circle cx="442.96" cy="113.60" r="1.0" fill="#2a2a2a" stroke="none" stroke-width="0" />
<circle cx="451.25" cy="82.73" r="2.6" fill="#eb9e40" stroke="#5e3208" stroke-width="0.9" />
<circle cx="451.25" cy="71.40" r="1.0" fill="#2a2a2a" stroke="none" stroke-width="0" />
<circle cx="459.54" cy="152.08" r="2.6" fill="#eb9e40" stroke="#5e3208" stroke-width="0.9" />
<circle cx="459.54" cy="155.46" r="2.6" fill="#eb9e40" stroke="#5e3208" stroke-width="0.9" />
<circle cx="467.83" cy="156.31" r="2.6" fill="#eb9e40" stroke="#5e3208" stroke-width="0.9" />
<circle cx="476.12" cy="152.93" r="2.6" fill="#eb9e40" stroke="#5e3208" stroke-width="0.9" />
<circle cx="484.41" cy="152.93" r="2.6" fill="#eb9e40" stroke="#5e3208" stroke-width="0.9" />
<line x1="321.80" y1="34.00" x2="321.80" y2="164.40" stroke="#231f20" stroke-width="1.3" />
<line x1="321.15" y1="163.80" x2="490.50" y2="163.80" stroke="#231f20" stroke-width="1.3" />
<line x1="318.30" y1="158.00" x2="321.80" y2="158.00" stroke="#231f20" stroke-width="1.0" />
<text x="314.70" y="161.30" font-size="9.2" text-anchor="end" fill="#231f20" font-weight="normal" >0</text>
<line x1="318.30" y1="141.09" x2="321.80" y2="141.09" stroke="#231f20" stroke-width="1.0" />
<text x="314.70" y="144.39" font-size="9.2" text-anchor="end" fill="#231f20" font-weight="normal" >20</text>
<line x1="318.30" y1="124.17" x2="321.80" y2="124.17" stroke="#231f20" stroke-width="1.0" />
<text x="314.70" y="127.47" font-size="9.2" text-anchor="end" fill="#231f20" font-weight="normal" >40</text>
<line x1="318.30" y1="107.26" x2="321.80" y2="107.26" stroke="#231f20" stroke-width="1.0" />
<text x="314.70" y="110.56" font-size="9.2" text-anchor="end" fill="#231f20" font-weight="normal" >60</text>
<line x1="318.30" y1="90.34" x2="321.80" y2="90.34" stroke="#231f20" stroke-width="1.0" />
<text x="314.70" y="93.64" font-size="9.2" text-anchor="end" fill="#231f20" font-weight="normal" >80</text>
<line x1="318.30" y1="73.43" x2="321.80" y2="73.43" stroke="#231f20" stroke-width="1.0" />
<text x="314.70" y="76.73" font-size="9.2" text-anchor="end" fill="#231f20" font-weight="normal" >100</text>
<line x1="318.30" y1="56.52" x2="321.80" y2="56.52" stroke="#231f20" stroke-width="1.0" />
<text x="314.70" y="59.82" font-size="9.2" text-anchor="end" fill="#231f20" font-weight="normal" >120</text>
<line x1="318.30" y1="39.60" x2="321.80" y2="39.60" stroke="#231f20" stroke-width="1.0" />
<text x="314.70" y="42.90" font-size="9.2" text-anchor="end" fill="#231f20" font-weight="normal" >140</text>
<line x1="326.90" y1="163.80" x2="326.90" y2="167.30" stroke="#231f20" stroke-width="1.0" />
<text transform="translate(330.10,172.2) rotate(-90)" font-size="7.25" text-anchor="end" fill="#231f20">p.(Asn48Ile)</text>
<line x1="335.19" y1="163.80" x2="335.19" y2="167.30" stroke="#231f20" stroke-width="1.0" />
<text transform="translate(338.39,172.2) rotate(-90)" font-size="7.25" text-anchor="end" fill="#231f20">p.(Asn48Tyr)</text>
<line x1="343.48" y1="163.80" x2="343.48" y2="167.30" stroke="#231f20" stroke-width="1.0" />
<text transform="translate(346.68,172.2) rotate(-90)" font-size="7.25" text-anchor="end" fill="#231f20">p.(Ser49Pro)</text>
<line x1="351.77" y1="163.80" x2="351.77" y2="167.30" stroke="#231f20" stroke-width="1.0" />
<text transform="translate(354.97,172.2) rotate(-90)" font-size="7.25" text-anchor="end" fill="#231f20">p.(Lys51Glu)</text>
<line x1="360.06" y1="163.80" x2="360.06" y2="167.30" stroke="#231f20" stroke-width="1.0" />
<text transform="translate(363.26,172.2) rotate(-90)" font-size="7.25" text-anchor="end" fill="#231f20">p.(Glu54Asp)</text>
<line x1="368.35" y1="163.80" x2="368.35" y2="167.30" stroke="#231f20" stroke-width="1.0" />
<text transform="translate(371.55,172.2) rotate(-90)" font-size="7.25" text-anchor="end" fill="#231f20">p.(Glu54Gly)</text>
<line x1="376.64" y1="163.80" x2="376.64" y2="167.30" stroke="#231f20" stroke-width="1.0" />
<text transform="translate(379.84,172.2) rotate(-90)" font-size="7.25" text-anchor="end" fill="#231f20">p.(Phe55Ile)</text>
<line x1="384.93" y1="163.80" x2="384.93" y2="167.30" stroke="#231f20" stroke-width="1.0" />
<text transform="translate(388.13,172.2) rotate(-90)" font-size="7.25" text-anchor="end" fill="#231f20">p.(Gly58Ala)</text>
<line x1="393.22" y1="163.80" x2="393.22" y2="167.30" stroke="#231f20" stroke-width="1.0" />
<text transform="translate(396.42,172.2) rotate(-90)" font-size="7.25" text-anchor="end" fill="#231f20">p.(Gly58Arg)</text>
<line x1="401.51" y1="163.80" x2="401.51" y2="167.30" stroke="#231f20" stroke-width="1.0" />
<text transform="translate(404.71,172.2) rotate(-90)" font-size="7.25" text-anchor="end" fill="#231f20">p.(Gly58Glu)</text>
<line x1="409.80" y1="163.80" x2="409.80" y2="167.30" stroke="#231f20" stroke-width="1.0" />
<text transform="translate(413.00,172.2) rotate(-90)" font-size="7.25" text-anchor="end" fill="#231f20">p.(Glu63Lys)</text>
<line x1="418.09" y1="163.80" x2="418.09" y2="167.30" stroke="#231f20" stroke-width="1.0" />
<text transform="translate(421.29,172.2) rotate(-90)" font-size="7.25" text-anchor="end" fill="#231f20">p.(Cys64Arg)</text>
<line x1="426.38" y1="163.80" x2="426.38" y2="167.30" stroke="#231f20" stroke-width="1.0" />
<text transform="translate(429.58,172.2) rotate(-90)" font-size="7.25" text-anchor="end" fill="#231f20">p.(Glu67Lys)</text>
<line x1="434.67" y1="163.80" x2="434.67" y2="167.30" stroke="#231f20" stroke-width="1.0" />
<text transform="translate(437.87,172.2) rotate(-90)" font-size="7.25" text-anchor="end" fill="#231f20">p.(Cys69Tyr)</text>
<line x1="442.96" y1="163.80" x2="442.96" y2="167.30" stroke="#231f20" stroke-width="1.0" />
<text transform="translate(446.16,172.2) rotate(-90)" font-size="7.25" text-anchor="end" fill="#231f20">p.(Glu72Gln)</text>
<line x1="451.25" y1="163.80" x2="451.25" y2="167.30" stroke="#231f20" stroke-width="1.0" />
<text transform="translate(454.45,172.2) rotate(-90)" font-size="7.25" text-anchor="end" fill="#231f20">p.(Glu73Asp)</text>
<line x1="459.54" y1="163.80" x2="459.54" y2="167.30" stroke="#231f20" stroke-width="1.0" />
<text transform="translate(462.74,172.2) rotate(-90)" font-size="7.25" text-anchor="end" fill="#231f20">p.(Arg75Gln)</text>
<line x1="467.83" y1="163.80" x2="467.83" y2="167.30" stroke="#231f20" stroke-width="1.0" />
<text transform="translate(471.03,172.2) rotate(-90)" font-size="7.25" text-anchor="end" fill="#231f20">p.(Thr84Ile)</text>
<line x1="476.12" y1="163.80" x2="476.12" y2="167.30" stroke="#231f20" stroke-width="1.0" />
<text transform="translate(479.32,172.2) rotate(-90)" font-size="7.25" text-anchor="end" fill="#231f20">p.(Lys89Glu)</text>
<line x1="484.41" y1="163.80" x2="484.41" y2="167.30" stroke="#231f20" stroke-width="1.0" />
<text transform="translate(487.61,172.2) rotate(-90)" font-size="7.25" text-anchor="end" fill="#231f20">p.(Tyr91Asp)</text>
<text transform="translate(293.3,124.0) rotate(-90)" font-size="10.4" fill="#231f20" stroke="#231f20" stroke-width="0.25" textLength="51.1" lengthAdjust="spacingAndGlyphs">FIX:Ag/ FIX:Act</text>
<text x="66.60" y="241.70" font-size="9.2" text-anchor="start" fill="#231f20" font-weight="normal" >EGF-1 and EGF-2</text>
<text x="71.00" y="256.00" font-size="8" text-anchor="start" fill="#231f20" font-weight="normal" >*</text>
<text x="76.20" y="256.70" font-size="9" text-anchor="start" fill="#231f20" font-weight="normal" textLength="7.4" lengthAdjust="spacingAndGlyphs">=</text>
<text x="86.20" y="256.70" font-size="9" text-anchor="start" fill="#231f20" font-weight="normal" >calcium ion coordinating residue</text>
<text x="311.10" y="286.90" font-size="9" text-anchor="start" fill="#231f20" font-weight="normal" >salt bridge</text>
<rect x="68.20" y="385.67" width="7.00" height="0.94" fill="#b4aedd" />
<rect x="76.34" y="302.45" width="7.00" height="84.15" fill="#b4aedd" />
<rect x="84.48" y="377.25" width="7.00" height="9.35" fill="#b4aedd" />
<rect x="92.62" y="383.80" width="7.00" height="2.81" fill="#b4aedd" />
<rect x="100.76" y="381.93" width="7.00" height="4.68" fill="#b4aedd" />
<rect x="108.90" y="280.01" width="7.00" height="106.59" fill="#b4aedd" />
<rect x="117.04" y="385.67" width="7.00" height="0.94" fill="#b4aedd" />
<rect x="125.18" y="381.93" width="7.00" height="4.68" fill="#b4aedd" />
<rect x="133.32" y="382.86" width="7.00" height="3.74" fill="#b4aedd" />
<rect x="141.46" y="381.93" width="7.00" height="4.68" fill="#b4aedd" />
<rect x="149.60" y="382.86" width="7.00" height="3.74" fill="#b4aedd" />
<rect x="157.74" y="380.06" width="7.00" height="6.55" fill="#b4aedd" />
<rect x="165.88" y="385.67" width="7.00" height="0.94" fill="#b4aedd" />
<rect x="174.02" y="385.67" width="7.00" height="0.94" fill="#b4aedd" />
<rect x="182.16" y="384.73" width="7.00" height="1.87" fill="#b4aedd" />
<rect x="190.30" y="381.93" width="7.00" height="4.68" fill="#b4aedd" />
<rect x="198.44" y="385.67" width="7.00" height="0.94" fill="#b4aedd" />
<rect x="206.58" y="383.80" width="7.00" height="2.81" fill="#b4aedd" />
<rect x="214.72" y="350.13" width="7.00" height="36.47" fill="#b4aedd" />
<rect x="222.86" y="383.80" width="7.00" height="2.81" fill="#b4aedd" />
<rect x="231.00" y="377.25" width="7.00" height="9.35" fill="#b4aedd" />
<rect x="239.14" y="382.86" width="7.00" height="3.74" fill="#b4aedd" />
<rect x="247.28" y="385.67" width="7.00" height="0.94" fill="#b4aedd" />
<rect x="255.42" y="385.67" width="7.00" height="0.94" fill="#b4aedd" />
<rect x="263.56" y="385.67" width="7.00" height="0.94" fill="#b4aedd" />
<rect x="271.70" y="385.67" width="7.00" height="0.94" fill="#b4aedd" />
<rect x="279.84" y="382.86" width="7.00" height="3.74" fill="#b4aedd" />
<rect x="287.98" y="383.80" width="7.00" height="2.81" fill="#b4aedd" />
<rect x="296.12" y="309.00" width="7.00" height="77.61" fill="#b4aedd" />
<rect x="312.40" y="378.19" width="7.00" height="8.42" fill="#c9c4e6" />
<line x1="66.30" y1="367.90" x2="491.00" y2="367.90" stroke="#2a2a2a" stroke-width="1.2" stroke-dasharray="7.9 5.78" stroke-dashoffset="3.68"/>
<rect x="320.54" y="364.16" width="7.00" height="22.44" fill="#e2639f" />
<rect x="328.68" y="373.51" width="7.00" height="13.09" fill="#e2639f" />
<rect x="336.82" y="379.12" width="7.00" height="7.48" fill="#e2639f" />
<rect x="344.96" y="366.03" width="7.00" height="20.57" fill="#ea8fbb" />
<rect x="353.10" y="307.12" width="7.00" height="79.48" fill="#e2639f" />
<rect x="361.24" y="373.51" width="7.00" height="13.09" fill="#e2639f" />
<rect x="369.38" y="373.51" width="7.00" height="13.09" fill="#e2639f" />
<rect x="377.52" y="309.00" width="7.00" height="77.61" fill="#e2639f" />
<rect x="385.66" y="383.80" width="7.00" height="2.81" fill="#e2639f" />
<rect x="393.80" y="381.93" width="7.00" height="4.68" fill="#e2639f" />
<rect x="410.08" y="380.99" width="7.00" height="5.61" fill="#ea8fbb" />
<rect x="418.22" y="382.86" width="7.00" height="3.74" fill="#e2639f" />
<rect x="426.36" y="385.67" width="7.00" height="0.94" fill="#e2639f" />
<rect x="458.92" y="385.67" width="7.00" height="0.94" fill="#e2639f" />
<rect x="467.06" y="384.73" width="7.00" height="1.87" fill="#e2639f" />
<line x1="66.30" y1="386.60" x2="491.00" y2="386.60" stroke="#222" stroke-width="1.4" />
<circle cx="71.70" cy="385.67" r="2.6" fill="#8f87c3" stroke="#2e2450" stroke-width="0.9" />
<circle cx="79.84" cy="302.45" r="2.6" fill="#8f87c3" stroke="#2e2450" stroke-width="0.9" />
<circle cx="79.84" cy="380.99" r="2.6" fill="#8f87c3" stroke="#2e2450" stroke-width="0.9" />
<circle cx="87.98" cy="377.25" r="2.6" fill="#8f87c3" stroke="#2e2450" stroke-width="0.9" />
<circle cx="96.12" cy="383.33" r="2.6" fill="#8f87c3" stroke="#2e2450" stroke-width="0.9" />
<circle cx="96.12" cy="384.26" r="2.6" fill="#8f87c3" stroke="#2e2450" stroke-width="0.9" />
<circle cx="104.26" cy="380.99" r="2.6" fill="#8f87c3" stroke="#2e2450" stroke-width="0.9" />
<circle cx="112.40" cy="279.08" r="2.6" fill="#8f87c3" stroke="#2e2450" stroke-width="0.9" />
<circle cx="120.54" cy="384.73" r="2.6" fill="#8f87c3" stroke="#2e2450" stroke-width="0.9" />
<circle cx="128.68" cy="377.25" r="2.6" fill="#8f87c3" stroke="#2e2450" stroke-width="0.9" />
<circle cx="128.68" cy="381.93" r="2.6" fill="#8f87c3" stroke="#2e2450" stroke-width="0.9" />
<circle cx="128.68" cy="384.73" r="2.6" fill="#8f87c3" stroke="#2e2450" stroke-width="0.9" />
<circle cx="128.68" cy="386.13" r="2.6" fill="#8f87c3" stroke="#2e2450" stroke-width="0.9" />
<circle cx="136.82" cy="381.93" r="2.6" fill="#8f87c3" stroke="#2e2450" stroke-width="0.9" />
<circle cx="136.82" cy="380.99" r="2.6" fill="#8f87c3" stroke="#2e2450" stroke-width="0.9" />
<circle cx="136.82" cy="384.45" r="2.6" fill="#8f87c3" stroke="#2e2450" stroke-width="0.9" />
<circle cx="144.96" cy="381.93" r="2.6" fill="#8f87c3" stroke="#2e2450" stroke-width="0.9" />
<circle cx="153.10" cy="382.86" r="2.6" fill="#8f87c3" stroke="#2e2450" stroke-width="0.9" />
<circle cx="161.24" cy="379.59" r="2.6" fill="#8f87c3" stroke="#2e2450" stroke-width="0.9" />
<circle cx="169.38" cy="385.67" r="2.6" fill="#8f87c3" stroke="#2e2450" stroke-width="0.9" />
<circle cx="169.38" cy="384.45" r="2.6" fill="#8f87c3" stroke="#2e2450" stroke-width="0.9" />
<circle cx="177.52" cy="384.73" r="2.6" fill="#8f87c3" stroke="#2e2450" stroke-width="0.9" />
<circle cx="177.52" cy="386.13" r="2.6" fill="#8f87c3" stroke="#2e2450" stroke-width="0.9" />
<circle cx="185.66" cy="383.80" r="2.6" fill="#8f87c3" stroke="#2e2450" stroke-width="0.9" />
<circle cx="193.80" cy="380.99" r="2.6" fill="#8f87c3" stroke="#2e2450" stroke-width="0.9" />
<circle cx="201.94" cy="384.45" r="2.6" fill="#8f87c3" stroke="#2e2450" stroke-width="0.9" />
<circle cx="210.08" cy="382.39" r="2.6" fill="#8f87c3" stroke="#2e2450" stroke-width="0.9" />
<circle cx="210.08" cy="384.45" r="2.6" fill="#8f87c3" stroke="#2e2450" stroke-width="0.9" />
<circle cx="210.08" cy="385.67" r="2.6" fill="#8f87c3" stroke="#2e2450" stroke-width="0.9" />
<circle cx="218.22" cy="350.13" r="2.6" fill="#8f87c3" stroke="#2e2450" stroke-width="0.9" />
<circle cx="226.36" cy="382.86" r="2.6" fill="#8f87c3" stroke="#2e2450" stroke-width="0.9" />
<circle cx="234.50" cy="376.78" r="2.6" fill="#8f87c3" stroke="#2e2450" stroke-width="0.9" />
<circle cx="242.64" cy="382.39" r="2.6" fill="#8f87c3" stroke="#2e2450" stroke-width="0.9" />
<circle cx="250.78" cy="385.67" r="2.6" fill="#8f87c3" stroke="#2e2450" stroke-width="0.9" />
<circle cx="258.92" cy="385.67" r="2.6" fill="#8f87c3" stroke="#2e2450" stroke-width="0.9" />
<circle cx="267.06" cy="384.26" r="2.6" fill="#8f87c3" stroke="#2e2450" stroke-width="0.9" />
<circle cx="267.06" cy="385.67" r="2.6" fill="#8f87c3" stroke="#2e2450" stroke-width="0.9" />
<circle cx="275.20" cy="384.26" r="2.6" fill="#8f87c3" stroke="#2e2450" stroke-width="0.9" />
<circle cx="283.34" cy="382.39" r="2.6" fill="#8f87c3" stroke="#2e2450" stroke-width="0.9" />
<circle cx="291.48" cy="381.46" r="2.6" fill="#8f87c3" stroke="#2e2450" stroke-width="0.9" />
<circle cx="291.48" cy="383.80" r="2.6" fill="#8f87c3" stroke="#2e2450" stroke-width="0.9" />
<circle cx="299.62" cy="309.00" r="2.6" fill="#8f87c3" stroke="#2e2450" stroke-width="0.9" />
<circle cx="307.76" cy="385.67" r="2.6" fill="#8f87c3" stroke="#2e2450" stroke-width="0.9" />
<circle cx="315.90" cy="377.72" r="2.6" fill="#8f87c3" stroke="#2e2450" stroke-width="0.9" />
<circle cx="324.04" cy="364.16" r="2.6" fill="#c02a68" stroke="#4a0f28" stroke-width="0.9" />
<circle cx="332.18" cy="373.51" r="2.6" fill="#c02a68" stroke="#4a0f28" stroke-width="0.9" />
<circle cx="340.32" cy="378.65" r="2.6" fill="#c02a68" stroke="#4a0f28" stroke-width="0.9" />
<circle cx="348.46" cy="355.75" r="2.6" fill="#c02a68" stroke="#4a0f28" stroke-width="0.9" />
<circle cx="348.46" cy="376.31" r="2.6" fill="#c02a68" stroke="#4a0f28" stroke-width="0.9" />
<circle cx="356.60" cy="306.19" r="2.6" fill="#c02a68" stroke="#4a0f28" stroke-width="0.9" />
<circle cx="364.74" cy="373.51" r="2.6" fill="#c02a68" stroke="#4a0f28" stroke-width="0.9" />
<circle cx="372.88" cy="352.00" r="2.6" fill="#c02a68" stroke="#4a0f28" stroke-width="0.9" />
<circle cx="372.88" cy="372.58" r="2.6" fill="#c02a68" stroke="#4a0f28" stroke-width="0.9" />
<circle cx="372.88" cy="379.59" r="2.6" fill="#c02a68" stroke="#4a0f28" stroke-width="0.9" />
<circle cx="381.02" cy="309.00" r="2.6" fill="#c02a68" stroke="#4a0f28" stroke-width="0.9" />
<circle cx="389.16" cy="381.93" r="2.6" fill="#c02a68" stroke="#4a0f28" stroke-width="0.9" />
<circle cx="389.16" cy="384.26" r="2.6" fill="#c02a68" stroke="#4a0f28" stroke-width="0.9" />
<circle cx="397.30" cy="380.99" r="2.6" fill="#c02a68" stroke="#4a0f28" stroke-width="0.9" />
<circle cx="405.44" cy="385.20" r="2.6" fill="#c02a68" stroke="#4a0f28" stroke-width="0.9" />
<circle cx="413.58" cy="380.99" r="2.6" fill="#c02a68" stroke="#4a0f28" stroke-width="0.9" />
<circle cx="421.72" cy="382.39" r="2.6" fill="#c02a68" stroke="#4a0f28" stroke-width="0.9" />
<circle cx="429.86" cy="385.20" r="2.6" fill="#c02a68" stroke="#4a0f28" stroke-width="0.9" />
<circle cx="438.00" cy="385.85" r="2.6" fill="#c02a68" stroke="#4a0f28" stroke-width="0.9" />
<circle cx="446.14" cy="385.85" r="2.6" fill="#c02a68" stroke="#4a0f28" stroke-width="0.9" />
<circle cx="454.28" cy="386.04" r="2.6" fill="#c02a68" stroke="#4a0f28" stroke-width="0.9" />
<circle cx="462.42" cy="385.20" r="2.6" fill="#c02a68" stroke="#4a0f28" stroke-width="0.9" />
<circle cx="470.56" cy="384.45" r="2.6" fill="#c02a68" stroke="#4a0f28" stroke-width="0.9" />
<circle cx="478.70" cy="386.04" r="2.6" fill="#c02a68" stroke="#4a0f28" stroke-width="0.9" />
<circle cx="486.84" cy="386.04" r="2.6" fill="#c02a68" stroke="#4a0f28" stroke-width="0.9" />
<circle cx="71.70" cy="379.50" r="0.95" fill="#333" stroke="none" stroke-width="0" />
<circle cx="79.84" cy="291.40" r="0.95" fill="#333" stroke="none" stroke-width="0" />
<circle cx="87.98" cy="370.10" r="0.95" fill="#333" stroke="none" stroke-width="0" />
<circle cx="96.12" cy="374.40" r="0.95" fill="#333" stroke="none" stroke-width="0" />
<circle cx="104.26" cy="374.40" r="0.95" fill="#333" stroke="none" stroke-width="0" />
<circle cx="112.40" cy="272.90" r="0.95" fill="#333" stroke="none" stroke-width="0" />
<circle cx="218.22" cy="337.70" r="0.95" fill="#333" stroke="none" stroke-width="0" />
<circle cx="226.36" cy="374.60" r="0.95" fill="#333" stroke="none" stroke-width="0" />
<text x="299.62" y="301.40" font-size="8.6" text-anchor="middle" fill="#231f20" font-weight="normal" stroke="#231f20" stroke-width="0.3">#</text>
<text x="381.02" y="301.40" font-size="8.6" text-anchor="middle" fill="#231f20" font-weight="normal" stroke="#231f20" stroke-width="0.3">#</text>
<line x1="66.30" y1="250.00" x2="66.30" y2="394.10" stroke="#231f20" stroke-width="1.3" />
<line x1="65.65" y1="393.50" x2="491.00" y2="393.50" stroke="#231f20" stroke-width="1.3" />
<line x1="62.80" y1="386.60" x2="66.30" y2="386.60" stroke="#231f20" stroke-width="1.0" />
<text x="59.50" y="389.90" font-size="9.2" text-anchor="end" fill="#231f20" font-weight="normal" >0</text>
<line x1="62.80" y1="367.90" x2="66.30" y2="367.90" stroke="#231f20" stroke-width="1.0" />
<text x="59.50" y="371.20" font-size="9.2" text-anchor="end" fill="#231f20" font-weight="normal" >20</text>
<line x1="62.80" y1="349.20" x2="66.30" y2="349.20" stroke="#231f20" stroke-width="1.0" />
<text x="59.50" y="352.50" font-size="9.2" text-anchor="end" fill="#231f20" font-weight="normal" >40</text>
<line x1="62.80" y1="330.50" x2="66.30" y2="330.50" stroke="#231f20" stroke-width="1.0" />
<text x="59.50" y="333.80" font-size="9.2" text-anchor="end" fill="#231f20" font-weight="normal" >60</text>
<line x1="62.80" y1="311.80" x2="66.30" y2="311.80" stroke="#231f20" stroke-width="1.0" />
<text x="59.50" y="315.10" font-size="9.2" text-anchor="end" fill="#231f20" font-weight="normal" >80</text>
<line x1="62.80" y1="293.10" x2="66.30" y2="293.10" stroke="#231f20" stroke-width="1.0" />
<text x="59.50" y="296.40" font-size="9.2" text-anchor="end" fill="#231f20" font-weight="normal" >100</text>
<line x1="62.80" y1="274.40" x2="66.30" y2="274.40" stroke="#231f20" stroke-width="1.0" />
<text x="59.50" y="277.70" font-size="9.2" text-anchor="end" fill="#231f20" font-weight="normal" >120</text>
<line x1="62.80" y1="255.70" x2="66.30" y2="255.70" stroke="#231f20" stroke-width="1.0" />
<text x="59.50" y="259.00" font-size="9.2" text-anchor="end" fill="#231f20" font-weight="normal" >140</text>
<line x1="71.70" y1="393.50" x2="71.70" y2="397.00" stroke="#231f20" stroke-width="1.0" />
<text transform="translate(73.30,401.0) rotate(-90)" font-size="7.25" text-anchor="end" fill="#231f20">p.(Asp93Asn)</text>
<line x1="79.84" y1="393.50" x2="79.84" y2="397.00" stroke="#231f20" stroke-width="1.0" />
<text transform="translate(81.44,401.0) rotate(-90)" font-size="7.25" text-anchor="end" fill="#231f20">p.(Asp93Glu)</text>
<line x1="87.98" y1="393.50" x2="87.98" y2="397.00" stroke="#231f20" stroke-width="1.0" />
<text transform="translate(89.58,401.0) rotate(-90)" font-size="7.25" text-anchor="end" fill="#231f20">p.(Asp93Gly)</text>
<line x1="96.12" y1="393.50" x2="96.12" y2="397.00" stroke="#231f20" stroke-width="1.0" />
<text transform="translate(97.72,401.0) rotate(-90)" font-size="7.25" text-anchor="end" fill="#231f20">p.(Gly94Arg)</text>
<line x1="104.26" y1="393.50" x2="104.26" y2="397.00" stroke="#231f20" stroke-width="1.0" />
<text transform="translate(105.86,401.0) rotate(-90)" font-size="7.25" text-anchor="end" fill="#231f20">p.(Gly94Val)</text>
<line x1="112.40" y1="393.50" x2="112.40" y2="397.00" stroke="#231f20" stroke-width="1.0" />
<text transform="translate(114.00,401.0) rotate(-90)" font-size="7.25" text-anchor="end" fill="#231f20">p.(Gln96Pro)</text>
<line x1="120.54" y1="393.50" x2="120.54" y2="397.00" stroke="#231f20" stroke-width="1.0" />
<text transform="translate(122.14,401.0) rotate(-90)" font-size="7.25" text-anchor="end" fill="#231f20">p.(Cys97Arg)</text>
<line x1="128.68" y1="393.50" x2="128.68" y2="397.00" stroke="#231f20" stroke-width="1.0" />
<text transform="translate(130.28,401.0) rotate(-90)" font-size="7.25" text-anchor="end" fill="#231f20">p.(Cys97Trp)</text>
<line x1="136.82" y1="393.50" x2="136.82" y2="397.00" stroke="#231f20" stroke-width="1.0" />
<text transform="translate(138.42,401.0) rotate(-90)" font-size="7.25" text-anchor="end" fill="#231f20">p.(Pro101Ala)</text>
<line x1="144.96" y1="393.50" x2="144.96" y2="397.00" stroke="#231f20" stroke-width="1.0" />
<text transform="translate(146.56,401.0) rotate(-90)" font-size="7.25" text-anchor="end" fill="#231f20">p.(Pro101Gln)</text>
<line x1="153.10" y1="393.50" x2="153.10" y2="397.00" stroke="#231f20" stroke-width="1.0" />
<text transform="translate(154.70,401.0) rotate(-90)" font-size="7.25" text-anchor="end" fill="#231f20">p.(Pro101Ser)</text>
<line x1="161.24" y1="393.50" x2="161.24" y2="397.00" stroke="#231f20" stroke-width="1.0" />
<text transform="translate(162.84,401.0) rotate(-90)" font-size="7.25" text-anchor="end" fill="#231f20">p.(Pro101Thr)</text>
<line x1="169.38" y1="393.50" x2="169.38" y2="397.00" stroke="#231f20" stroke-width="1.0" />
<text transform="translate(170.98,401.0) rotate(-90)" font-size="7.25" text-anchor="end" fill="#231f20">p.(Cys102Ser)</text>
<line x1="177.52" y1="393.50" x2="177.52" y2="397.00" stroke="#231f20" stroke-width="1.0" />
<text transform="translate(179.12,401.0) rotate(-90)" font-size="7.25" text-anchor="end" fill="#231f20">p.(Cys102Tyr)</text>
<line x1="185.66" y1="393.50" x2="185.66" y2="397.00" stroke="#231f20" stroke-width="1.0" />
<text transform="translate(187.26,401.0) rotate(-90)" font-size="7.25" text-anchor="end" fill="#231f20">p.(Gly105Asp)</text>
<line x1="193.80" y1="393.50" x2="193.80" y2="397.00" stroke="#231f20" stroke-width="1.0" />
<text transform="translate(195.40,401.0) rotate(-90)" font-size="7.25" text-anchor="end" fill="#231f20">p.(Gly106Arg)</text>
<line x1="201.94" y1="393.50" x2="201.94" y2="397.00" stroke="#231f20" stroke-width="1.0" />
<text transform="translate(203.54,401.0) rotate(-90)" font-size="7.25" text-anchor="end" fill="#231f20">p.(Gly106Asp)</text>
<line x1="210.08" y1="393.50" x2="210.08" y2="397.00" stroke="#231f20" stroke-width="1.0" />
<text transform="translate(211.68,401.0) rotate(-90)" font-size="7.25" text-anchor="end" fill="#231f20">p.(Gly106Ser)</text>
<line x1="218.22" y1="393.50" x2="218.22" y2="397.00" stroke="#231f20" stroke-width="1.0" />
<text transform="translate(219.82,401.0) rotate(-90)" font-size="7.25" text-anchor="end" fill="#231f20">p.(Asp110Asn)</text>
<line x1="226.36" y1="393.50" x2="226.36" y2="397.00" stroke="#231f20" stroke-width="1.0" />
<text transform="translate(227.96,401.0) rotate(-90)" font-size="7.25" text-anchor="end" fill="#231f20">p.(Asp110Glu)</text>
<line x1="234.50" y1="393.50" x2="234.50" y2="397.00" stroke="#231f20" stroke-width="1.0" />
<text transform="translate(236.10,401.0) rotate(-90)" font-size="7.25" text-anchor="end" fill="#231f20">p.(Asp110Gly)</text>
<line x1="242.64" y1="393.50" x2="242.64" y2="397.00" stroke="#231f20" stroke-width="1.0" />
<text transform="translate(244.24,401.0) rotate(-90)" font-size="7.25" text-anchor="end" fill="#231f20">p.(Ile112Thr)</text>
<line x1="250.78" y1="393.50" x2="250.78" y2="397.00" stroke="#231f20" stroke-width="1.0" />
<text transform="translate(252.38,401.0) rotate(-90)" font-size="7.25" text-anchor="end" fill="#231f20">p.(Cys117Tyr)</text>
<line x1="258.92" y1="393.50" x2="258.92" y2="397.00" stroke="#231f20" stroke-width="1.0" />
<text transform="translate(260.52,401.0) rotate(-90)" font-size="7.25" text-anchor="end" fill="#231f20">p.(Cys119Arg)</text>
<line x1="267.06" y1="393.50" x2="267.06" y2="397.00" stroke="#231f20" stroke-width="1.0" />
<text transform="translate(268.66,401.0) rotate(-90)" font-size="7.25" text-anchor="end" fill="#231f20">p.(Cys119Tyr)</text>
<line x1="275.20" y1="393.50" x2="275.20" y2="397.00" stroke="#231f20" stroke-width="1.0" />
<text transform="translate(276.80,401.0) rotate(-90)" font-size="7.25" text-anchor="end" fill="#231f20">p.(Gly122Val)</text>
<line x1="283.34" y1="393.50" x2="283.34" y2="397.00" stroke="#231f20" stroke-width="1.0" />
<text transform="translate(284.94,401.0) rotate(-90)" font-size="7.25" text-anchor="end" fill="#231f20">p.(Phe123Cys)</text>
<line x1="291.48" y1="393.50" x2="291.48" y2="397.00" stroke="#231f20" stroke-width="1.0" />
<text transform="translate(293.08,401.0) rotate(-90)" font-size="7.25" text-anchor="end" fill="#231f20">p.(Phe123Ser)</text>
<line x1="299.62" y1="393.50" x2="299.62" y2="397.00" stroke="#231f20" stroke-width="1.0" />
<text transform="translate(301.22,401.0) rotate(-90)" font-size="7.25" text-anchor="end" fill="#231f20">p.(Glu124Lys)</text>
<line x1="307.76" y1="393.50" x2="307.76" y2="397.00" stroke="#231f20" stroke-width="1.0" />
<text transform="translate(309.36,401.0) rotate(-90)" font-size="7.25" text-anchor="end" fill="#231f20">p.(Gly125Arg)</text>
<line x1="315.90" y1="393.50" x2="315.90" y2="397.00" stroke="#231f20" stroke-width="1.0" />
<text transform="translate(317.50,401.0) rotate(-90)" font-size="7.25" text-anchor="end" fill="#231f20">p.(Glu129Lys)</text>
<line x1="324.04" y1="393.50" x2="324.04" y2="397.00" stroke="#231f20" stroke-width="1.0" />
<text transform="translate(325.64,401.0) rotate(-90)" font-size="7.25" text-anchor="end" fill="#231f20">p.(Cys134Arg)</text>
<line x1="332.18" y1="393.50" x2="332.18" y2="397.00" stroke="#231f20" stroke-width="1.0" />
<text transform="translate(333.78,401.0) rotate(-90)" font-size="7.25" text-anchor="end" fill="#231f20">p.(Cys134Gly)</text>
<line x1="340.32" y1="393.50" x2="340.32" y2="397.00" stroke="#231f20" stroke-width="1.0" />
<text transform="translate(341.92,401.0) rotate(-90)" font-size="7.25" text-anchor="end" fill="#231f20">p.(Cys134Tyr)</text>
<line x1="348.46" y1="393.50" x2="348.46" y2="397.00" stroke="#231f20" stroke-width="1.0" />
<text transform="translate(350.06,401.0) rotate(-90)" font-size="7.25" text-anchor="end" fill="#231f20">p.(Asn138His)</text>
<line x1="356.60" y1="393.50" x2="356.60" y2="397.00" stroke="#231f20" stroke-width="1.0" />
<text transform="translate(358.20,401.0) rotate(-90)" font-size="7.25" text-anchor="end" fill="#231f20">p.(Asn138Lys)</text>
<line x1="364.74" y1="393.50" x2="364.74" y2="397.00" stroke="#231f20" stroke-width="1.0" />
<text transform="translate(366.34,401.0) rotate(-90)" font-size="7.25" text-anchor="end" fill="#231f20">p.(Gly139Asp)</text>
<line x1="372.88" y1="393.50" x2="372.88" y2="397.00" stroke="#231f20" stroke-width="1.0" />
<text transform="translate(374.48,401.0) rotate(-90)" font-size="7.25" text-anchor="end" fill="#231f20">p.(Gly139Ser)</text>
<line x1="381.02" y1="393.50" x2="381.02" y2="397.00" stroke="#231f20" stroke-width="1.0" />
<text transform="translate(382.62,401.0) rotate(-90)" font-size="7.25" text-anchor="end" fill="#231f20">p.(Arg140Ser)</text>
<line x1="389.16" y1="393.50" x2="389.16" y2="397.00" stroke="#231f20" stroke-width="1.0" />
<text transform="translate(390.76,401.0) rotate(-90)" font-size="7.25" text-anchor="end" fill="#231f20">p.(Cys141Trp)</text>
<line x1="397.30" y1="393.50" x2="397.30" y2="397.00" stroke="#231f20" stroke-width="1.0" />
<text transform="translate(398.90,401.0) rotate(-90)" font-size="7.25" text-anchor="end" fill="#231f20">p.(Cys141Tyr)</text>
<line x1="405.44" y1="393.50" x2="405.44" y2="397.00" stroke="#231f20" stroke-width="1.0" />
<text transform="translate(407.04,401.0) rotate(-90)" font-size="7.25" text-anchor="end" fill="#231f20">p.(Gln143Glu)</text>
<line x1="413.58" y1="393.50" x2="413.58" y2="397.00" stroke="#231f20" stroke-width="1.0" />
<text transform="translate(415.18,401.0) rotate(-90)" font-size="7.25" text-anchor="end" fill="#231f20">p.(Val153Ala)</text>
<line x1="421.72" y1="393.50" x2="421.72" y2="397.00" stroke="#231f20" stroke-width="1.0" />
<text transform="translate(423.32,401.0) rotate(-90)" font-size="7.25" text-anchor="end" fill="#231f20">p.(Cys155Phe)</text>
<line x1="429.86" y1="393.50" x2="429.86" y2="397.00" stroke="#231f20" stroke-width="1.0" />
<text transform="translate(431.46,401.0) rotate(-90)" font-size="7.25" text-anchor="end" fill="#231f20">p.(Cys155Tyr)</text>
<line x1="438.00" y1="393.50" x2="438.00" y2="397.00" stroke="#231f20" stroke-width="1.0" />
<text transform="translate(439.60,401.0) rotate(-90)" font-size="7.25" text-anchor="end" fill="#231f20">p.(Ser156Pro)</text>
<line x1="446.14" y1="393.50" x2="446.14" y2="397.00" stroke="#231f20" stroke-width="1.0" />
<text transform="translate(447.74,401.0) rotate(-90)" font-size="7.25" text-anchor="end" fill="#231f20">p.(Cys157Arg)</text>
<line x1="454.28" y1="393.50" x2="454.28" y2="397.00" stroke="#231f20" stroke-width="1.0" />
<text transform="translate(455.88,401.0) rotate(-90)" font-size="7.25" text-anchor="end" fill="#231f20">p.(Gly160Ala)</text>
<line x1="462.42" y1="393.50" x2="462.42" y2="397.00" stroke="#231f20" stroke-width="1.0" />
<text transform="translate(464.02,401.0) rotate(-90)" font-size="7.25" text-anchor="end" fill="#231f20">P.(Gly160Glu)</text>
<line x1="470.56" y1="393.50" x2="470.56" y2="397.00" stroke="#231f20" stroke-width="1.0" />
<text transform="translate(472.16,401.0) rotate(-90)" font-size="7.25" text-anchor="end" fill="#231f20">p.(Gly160Val)</text>
<line x1="478.70" y1="393.50" x2="478.70" y2="397.00" stroke="#231f20" stroke-width="1.0" />
<text transform="translate(480.30,401.0) rotate(-90)" font-size="7.25" text-anchor="end" fill="#231f20">p.(Tyr161Cys)</text>
<line x1="486.84" y1="393.50" x2="486.84" y2="397.00" stroke="#231f20" stroke-width="1.0" />
<text transform="translate(488.44,401.0) rotate(-90)" font-size="7.25" text-anchor="end" fill="#231f20">p.(Asn166Tyr)</text>
<text transform="translate(37.6,346.7) rotate(-90)" font-size="10.4" fill="#231f20" stroke="#231f20" stroke-width="0.25" textLength="50.8" lengthAdjust="spacingAndGlyphs">FIX:Ag/ FIX:Act</text>
<defs><radialGradient id="cag2" cx="0.4" cy="0.35" r="0.7"><stop offset="0" stop-color="#9ad8d8"/><stop offset="0.6" stop-color="#3a9c9e"/><stop offset="1" stop-color="#22706f"/></radialGradient><filter id="blr" x="-20%" y="-20%" width="140%" height="140%"><feGaussianBlur stdDeviation="1.5"/></filter></defs>
<g filter="url(#blr)">
<path d="M66,492 C68,482 86,476 104,478 C122,479 138,484 144,497 C150,510 148,526 142,536 C152,540 158,550 156,562 C154,574 144,580 130,580 C118,580 108,576 102,572 C100,576 98,580 98,584 C102,594 102,602 98,608 C110,614 122,622 124,636 C126,650 122,664 108,672 C98,676 86,675 79,670 C72,662 70,652 67,644 C62,634 56,628 50,618 C46,612 42,604 41,596 C40,588 43,582 50,578 C43,574 38,568 40,560 C42,552 52,547 63,547 C60,538 60,528 63,520 C58,510 60,500 66,492 Z" fill="#f1f1f2" stroke="none" stroke-width="0" stroke-linecap="round" stroke-linejoin="round" />
<ellipse cx="60" cy="602" rx="17" ry="16" fill="#e6e6e8"/>
<ellipse cx="84" cy="635" rx="12" ry="14" fill="#ebebed"/>
</g>
<g filter="url(#blr)" opacity="0.85">
<ellipse cx="70" cy="508" rx="5" ry="8" fill="#fbfbfb"/>
<ellipse cx="142" cy="512" rx="4" ry="9" fill="#fbfbfb"/>
<ellipse cx="60" cy="596" rx="9" ry="6" fill="#fbfbfb"/>
<ellipse cx="50" cy="566" rx="5" ry="4" fill="#fbfbfb"/>
<ellipse cx="112" cy="660" rx="8" ry="6" fill="#fbfbfb"/>
<ellipse cx="74" cy="630" rx="4" ry="8" fill="#fbfbfb"/>
<ellipse cx="150" cy="566" rx="4" ry="6" fill="#fbfbfb"/>
<ellipse cx="104" cy="590" rx="4" ry="6" fill="#fbfbfb"/>
<ellipse cx="118" cy="614" rx="6" ry="4" fill="#fbfbfb"/>
<ellipse cx="88" cy="668" rx="8" ry="4" fill="#fbfbfb"/>
<ellipse cx="128" cy="572" rx="6" ry="4" fill="#fbfbfb"/>
</g>
<path d="M66,500 C74,488 92,484 110,486 C120,487 128,490 134,494" fill="none" stroke="#d9d9dd" stroke-width="1.0" stroke-linecap="round" stroke-linejoin="round" />
<path d="M138,500 C144,510 144,522 138,530" fill="none" stroke="#d9d9dd" stroke-width="1.0" stroke-linecap="round" stroke-linejoin="round" />
<path d="M64,556 C72,550 88,550 98,556" fill="none" stroke="#d9d9dd" stroke-width="1.0" stroke-linecap="round" stroke-linejoin="round" />
<path d="M48,588 C58,580 72,580 84,586" fill="none" stroke="#d9d9dd" stroke-width="1.0" stroke-linecap="round" stroke-linejoin="round" />
<path d="M74,614 C86,608 102,610 112,620" fill="none" stroke="#d9d9dd" stroke-width="1.0" stroke-linecap="round" stroke-linejoin="round" />
<path d="M72,644 C78,636 96,636 104,644" fill="none" stroke="#d9d9dd" stroke-width="1.0" stroke-linecap="round" stroke-linejoin="round" />
<path d="M112,546 C124,542 140,546 148,556" fill="none" stroke="#d9d9dd" stroke-width="1.0" stroke-linecap="round" stroke-linejoin="round" />
<path d="M46,600 C56,606 68,608 78,606" fill="none" stroke="#d9d9dd" stroke-width="1.0" stroke-linecap="round" stroke-linejoin="round" />
<path d="M118,652 C114,660 106,666 96,666" fill="none" stroke="#d9d9dd" stroke-width="1.0" stroke-linecap="round" stroke-linejoin="round" />
<path d="M62,522 C66,530 66,540 62,546" fill="none" stroke="#d9d9dd" stroke-width="1.0" stroke-linecap="round" stroke-linejoin="round" />
<path d="M148,560 C150,568 146,574 138,576" fill="none" stroke="#d9d9dd" stroke-width="1.0" stroke-linecap="round" stroke-linejoin="round" />
<path d="M80,664 C76,656 78,648 84,646" fill="none" stroke="#d9d9dd" stroke-width="1.0" stroke-linecap="round" stroke-linejoin="round" />
<path d="M116,630 C120,640 118,648 112,652" fill="none" stroke="#d9d9dd" stroke-width="1.0" stroke-linecap="round" stroke-linejoin="round" />
<path d="M104,576 C110,572 118,574 122,578" fill="none" stroke="#d9d9dd" stroke-width="1.0" stroke-linecap="round" stroke-linejoin="round" />
<g filter="url(#blr)" opacity="0.75">
<path d="M74,502 C78,492 92,488 102,490 C112,492 120,500 120,510 C122,520 118,532 110,540 C102,546 94,547 86,542 C76,538 70,530 71,520 C71,512 72,507 74,502 Z" fill="#b6dbbd" stroke="none" stroke-width="0" stroke-linecap="round" stroke-linejoin="round" />
<path d="M112,548 C118,544 128,544 134,548 C144,544 152,556 154,566 C154,574 146,574 140,570 C132,566 122,564 116,560 C112,556 110,552 112,548 Z" fill="#f3dfba" stroke="none" stroke-width="0" stroke-linecap="round" stroke-linejoin="round" />
<path d="M46,566 C56,556 76,552 96,551 C100,556 96,562 88,564 C74,568 60,574 48,572 Z" fill="#f0d4e4" stroke="none" stroke-width="0" stroke-linecap="round" stroke-linejoin="round" />
<path d="M56,586 C66,584 80,592 96,604 C94,608 86,606 78,602 C68,598 58,594 56,590 Z" fill="#c8c8ee" stroke="none" stroke-width="0" stroke-linecap="round" stroke-linejoin="round" />
<path d="M92,618 C100,616 116,622 122,632 C124,642 120,648 110,648 C96,648 82,646 78,640 C76,632 84,626 92,618 Z" fill="#f2e0c6" stroke="none" stroke-width="0" stroke-linecap="round" stroke-linejoin="round" />
</g>
<path d="M76,498 C80,490 88,492 92,486 C96,482 102,490 98,496" fill="none" stroke="#b3c4b7" stroke-width="1.0" stroke-linecap="round" stroke-linejoin="round" />
<path d="M100,488 C106,484 110,490 114,486 C120,482 126,492 124,500" fill="none" stroke="#b3c4b7" stroke-width="1.0" stroke-linecap="round" stroke-linejoin="round" />
<path d="M124,500 C130,498 136,506 132,512 C128,518 136,524 140,520" fill="none" stroke="#b3c4b7" stroke-width="1.0" stroke-linecap="round" stroke-linejoin="round" />
<path d="M72,508 C68,516 70,522 74,526" fill="none" stroke="#b3c4b7" stroke-width="1.0" stroke-linecap="round" stroke-linejoin="round" />
<path d="M98,542 C104,548 112,546 116,540" fill="none" stroke="#b3c4b7" stroke-width="1.0" stroke-linecap="round" stroke-linejoin="round" />
<path d="M118,536 C124,540 128,548 124,552" fill="none" stroke="#b3c4b7" stroke-width="1.0" stroke-linecap="round" stroke-linejoin="round" />
<path d="M90,546 C92,552 94,556 92,560" fill="none" stroke="#b3c4b7" stroke-width="1.0" stroke-linecap="round" stroke-linejoin="round" />
<path d="M130,520 C136,528 132,534 126,536" fill="none" stroke="#b3c4b7" stroke-width="1.0" stroke-linecap="round" stroke-linejoin="round" />
<path d="M84,488 C80,484 78,478 82,476" fill="none" stroke="#b3c4b7" stroke-width="1.0" stroke-linecap="round" stroke-linejoin="round" />
<path d="M120,526 C126,530 132,530 136,526" fill="none" stroke="#b3c4b7" stroke-width="1.0" stroke-linecap="round" stroke-linejoin="round" />
<path d="M126,504 C132,500 138,502 140,508" fill="none" stroke="#b3c4b7" stroke-width="1.0" stroke-linecap="round" stroke-linejoin="round" />
<path d="M112,536 C118,532 124,532 128,536" fill="none" stroke="#b3c4b7" stroke-width="1.0" stroke-linecap="round" stroke-linejoin="round" />
<path d="M122,492 C128,488 134,492 134,498" fill="none" stroke="#b3c4b7" stroke-width="1.0" stroke-linecap="round" stroke-linejoin="round" />
<path d="M132,510 C138,514 140,518 138,524" fill="none" stroke="#b3c4b7" stroke-width="1.0" stroke-linecap="round" stroke-linejoin="round" />
<path d="M116,518 C122,520 126,524 128,530" fill="none" stroke="#b3c4b7" stroke-width="1.0" stroke-linecap="round" stroke-linejoin="round" />
<path d="M76,503 C80,498 88,497 94,500 C96,504 95,510 92,514 C86,516 80,515 76,512 Z" fill="#8ec898" stroke="#5f9a6d" stroke-width="0.9" stroke-linecap="round" stroke-linejoin="round" />
<path d="M80,500 L92,510 M78,507 L90,514 M84,498 L94,506" fill="none" stroke="#bfe2c6" stroke-width="0.8" stroke-linecap="round" stroke-linejoin="round" />
<path d="M91,544 C92,530 95,512 99,496 L104,497 C104,506 108,512 114,505 L119,506 C116,516 112,522 122,514 L125,517 C118,526 110,534 99,544 Z" fill="#9fd2a8" stroke="#5f9a6d" stroke-width="0.9" stroke-linecap="round" stroke-linejoin="round" />
<path d="M93,541 C95,528 98,512 101,497" fill="none" stroke="#5f9a6d" stroke-width="4.7" stroke-linecap="round" stroke-linejoin="round" />
<path d="M93,541 C95,528 98,512 101,497" fill="none" stroke="#8ec898" stroke-width="3.6" stroke-linecap="round" stroke-linejoin="round" />
<path d="M96,542 C100,530 104,516 109,503" fill="none" stroke="#5f9a6d" stroke-width="4.7" stroke-linecap="round" stroke-linejoin="round" />
<path d="M96,542 C100,530 104,516 109,503" fill="none" stroke="#8ec898" stroke-width="3.6" stroke-linecap="round" stroke-linejoin="round" />
<path d="M98,542 C104,532 109,521 116,509" fill="none" stroke="#5f9a6d" stroke-width="4.7" stroke-linecap="round" stroke-linejoin="round" />
<path d="M98,542 C104,532 109,521 116,509" fill="none" stroke="#8ec898" stroke-width="3.6" stroke-linecap="round" stroke-linejoin="round" />
<path d="M99,540 C106,533 113,526 121,518" fill="none" stroke="#5f9a6d" stroke-width="4.7" stroke-linecap="round" stroke-linejoin="round" />
<path d="M99,540 C106,533 113,526 121,518" fill="none" stroke="#8ec898" stroke-width="3.6" stroke-linecap="round" stroke-linejoin="round" />
<path d="M97,539 C104,537 111,534 118,531" fill="none" stroke="#5f9a6d" stroke-width="4.7" stroke-linecap="round" stroke-linejoin="round" />
<path d="M97,539 C104,537 111,534 118,531" fill="none" stroke="#8ec898" stroke-width="3.6" stroke-linecap="round" stroke-linejoin="round" />
<path d="M98,499 C101,497 104,498 107,502" fill="none" stroke="#5f9a6d" stroke-width="4.7" stroke-linecap="round" stroke-linejoin="round" />
<path d="M98,499 C101,497 104,498 107,502" fill="none" stroke="#8ec898" stroke-width="3.6" stroke-linecap="round" stroke-linejoin="round" />
<path d="M-2.4200000000000004,-3.5200000000000005 L3.5200000000000005,0 L-2.4200000000000004,3.5200000000000005 Z" fill="#8ec898" stroke="#5f9a6d" stroke-width="0.6" stroke-linejoin="round" transform="translate(101,497) rotate(-80)"/>
<path d="M-2.4200000000000004,-3.5200000000000005 L3.5200000000000005,0 L-2.4200000000000004,3.5200000000000005 Z" fill="#8ec898" stroke="#5f9a6d" stroke-width="0.6" stroke-linejoin="round" transform="translate(109,503) rotate(-70)"/>
<path d="M-2.4200000000000004,-3.5200000000000005 L3.5200000000000005,0 L-2.4200000000000004,3.5200000000000005 Z" fill="#8ec898" stroke="#5f9a6d" stroke-width="0.6" stroke-linejoin="round" transform="translate(116,509) rotate(-60)"/>
<path d="M-2.4200000000000004,-3.5200000000000005 L3.5200000000000005,0 L-2.4200000000000004,3.5200000000000005 Z" fill="#8ec898" stroke="#5f9a6d" stroke-width="0.6" stroke-linejoin="round" transform="translate(121,518) rotate(-45)"/>
<path d="M-2.4200000000000004,-3.5200000000000005 L3.5200000000000005,0 L-2.4200000000000004,3.5200000000000005 Z" fill="#8ec898" stroke="#5f9a6d" stroke-width="0.6" stroke-linejoin="round" transform="translate(118,531) rotate(-22)"/>
<path d="M-2.4200000000000004,-3.5200000000000005 L3.5200000000000005,0 L-2.4200000000000004,3.5200000000000005 Z" fill="#8ec898" stroke="#5f9a6d" stroke-width="0.6" stroke-linejoin="round" transform="translate(107,502) rotate(40)"/>
<path d="M99,512 L101,530" fill="none" stroke="#4a8457" stroke-width="1.2" stroke-linecap="round" stroke-linejoin="round" />
<path d="M101.5,486 L101.5,494" fill="none" stroke="#5f9a6d" stroke-width="1.4" stroke-linecap="round" stroke-linejoin="round" />
<g transform="translate(72.00,521.00) rotate(3.6)">
<ellipse cx="2.67" cy="0" rx="3.10" ry="4.60" transform="skewX(-10)" fill="#d8eedc" stroke="#4a8457" stroke-width="2.9"/>
<ellipse cx="2.67" cy="0" rx="3.10" ry="4.60" transform="skewX(-10)" fill="none" stroke="#9ccfa6" stroke-width="1.7"/>
<ellipse cx="8.02" cy="0" rx="3.10" ry="4.60" transform="skewX(-10)" fill="#d8eedc" stroke="#4a8457" stroke-width="2.9"/>
<ellipse cx="8.02" cy="0" rx="3.10" ry="4.60" transform="skewX(-10)" fill="none" stroke="#9ccfa6" stroke-width="1.7"/>
<ellipse cx="13.36" cy="0" rx="3.10" ry="4.60" transform="skewX(-10)" fill="#d8eedc" stroke="#4a8457" stroke-width="2.9"/>
<ellipse cx="13.36" cy="0" rx="3.10" ry="4.60" transform="skewX(-10)" fill="none" stroke="#9ccfa6" stroke-width="1.7"/>
</g>
<g transform="translate(66.00,533.00) rotate(2.7)">
<ellipse cx="3.50" cy="0" rx="4.06" ry="4.40" transform="skewX(-10)" fill="#d8eedc" stroke="#4a8457" stroke-width="2.9"/>
<ellipse cx="3.50" cy="0" rx="4.06" ry="4.40" transform="skewX(-10)" fill="none" stroke="#9ccfa6" stroke-width="1.7"/>
<ellipse cx="10.51" cy="0" rx="4.06" ry="4.40" transform="skewX(-10)" fill="#d8eedc" stroke="#4a8457" stroke-width="2.9"/>
<ellipse cx="10.51" cy="0" rx="4.06" ry="4.40" transform="skewX(-10)" fill="none" stroke="#9ccfa6" stroke-width="1.7"/>
<ellipse cx="17.52" cy="0" rx="4.06" ry="4.40" transform="skewX(-10)" fill="#d8eedc" stroke="#4a8457" stroke-width="2.9"/>
<ellipse cx="17.52" cy="0" rx="4.06" ry="4.40" transform="skewX(-10)" fill="none" stroke="#9ccfa6" stroke-width="1.7"/>
</g>
<g transform="translate(77.00,491.00) rotate(21.0)">
<ellipse cx="3.48" cy="0" rx="4.04" ry="3.40" transform="skewX(-10)" fill="#d8eedc" stroke="#4a8457" stroke-width="2.9"/>
<ellipse cx="3.48" cy="0" rx="4.04" ry="3.40" transform="skewX(-10)" fill="none" stroke="#9ccfa6" stroke-width="1.7"/>
<ellipse cx="10.45" cy="0" rx="4.04" ry="3.40" transform="skewX(-10)" fill="#d8eedc" stroke="#4a8457" stroke-width="2.9"/>
<ellipse cx="10.45" cy="0" rx="4.04" ry="3.40" transform="skewX(-10)" fill="none" stroke="#9ccfa6" stroke-width="1.7"/>
</g>
<circle cx="136.1" cy="521.7" r="2.5" fill="url(#cag2)" stroke="#1f6a6c" stroke-width="0.4"/>
<path d="M104,552 C110,556 112,562 118,566 C124,570 130,572 140,572" fill="none" stroke="#dcc09a" stroke-width="1.0" stroke-linecap="round" stroke-linejoin="round" />
<path d="M126,540 C130,544 132,544 133,545" fill="none" stroke="#dcc09a" stroke-width="1.0" stroke-linecap="round" stroke-linejoin="round" />
<path d="M144,554 C147,558 147,560 145,562" fill="none" stroke="#dcc09a" stroke-width="1.0" stroke-linecap="round" stroke-linejoin="round" />
<path d="M110,544 C112,546 114,548 116,549" fill="none" stroke="#dcc09a" stroke-width="1.0" stroke-linecap="round" stroke-linejoin="round" />
<path d="M126,562 C132,566 136,566 142,564" fill="none" stroke="#dcc09a" stroke-width="1.0" stroke-linecap="round" stroke-linejoin="round" />
<path d="M153,570 C156,574 152,578 146,576" fill="none" stroke="#dcc09a" stroke-width="1.0" stroke-linecap="round" stroke-linejoin="round" />
<path d="M108,560 C112,566 118,570 124,570" fill="none" stroke="#dcc09a" stroke-width="1.0" stroke-linecap="round" stroke-linejoin="round" />
<g transform="translate(115.00,549.00) rotate(45.0)">
<ellipse cx="4.24" cy="0" rx="4.92" ry="4.00" transform="skewX(-10)" fill="#fbe6b0" stroke="#a88030" stroke-width="2.9"/>
<ellipse cx="4.24" cy="0" rx="4.92" ry="4.00" transform="skewX(-10)" fill="none" stroke="#edbf68" stroke-width="1.7"/>
<ellipse cx="12.73" cy="0" rx="4.92" ry="4.00" transform="skewX(-10)" fill="#fbe6b0" stroke="#a88030" stroke-width="2.9"/>
<ellipse cx="12.73" cy="0" rx="4.92" ry="4.00" transform="skewX(-10)" fill="none" stroke="#edbf68" stroke-width="1.7"/>
</g>
<g transform="translate(133.00,543.00) rotate(45.0)">
<ellipse cx="3.89" cy="0" rx="4.51" ry="4.00" transform="skewX(-10)" fill="#cfaa70" stroke="#65481c" stroke-width="2.9"/>
<ellipse cx="3.89" cy="0" rx="4.51" ry="4.00" transform="skewX(-10)" fill="none" stroke="#a27a3a" stroke-width="1.7"/>
<ellipse cx="11.67" cy="0" rx="4.51" ry="4.00" transform="skewX(-10)" fill="#cfaa70" stroke="#65481c" stroke-width="2.9"/>
<ellipse cx="11.67" cy="0" rx="4.51" ry="4.00" transform="skewX(-10)" fill="none" stroke="#a27a3a" stroke-width="1.7"/>
</g>
<g transform="translate(143.00,561.00) rotate(45.0)">
<ellipse cx="3.54" cy="0" rx="4.10" ry="3.80" transform="skewX(-10)" fill="#fbe6b0" stroke="#a88030" stroke-width="2.9"/>
<ellipse cx="3.54" cy="0" rx="4.10" ry="3.80" transform="skewX(-10)" fill="none" stroke="#edbf68" stroke-width="1.7"/>
<ellipse cx="10.61" cy="0" rx="4.10" ry="3.80" transform="skewX(-10)" fill="#fbe6b0" stroke="#a88030" stroke-width="2.9"/>
<ellipse cx="10.61" cy="0" rx="4.10" ry="3.80" transform="skewX(-10)" fill="none" stroke="#edbf68" stroke-width="1.7"/>
</g>
<path d="M48,567 C60,562 74,560 88,557" fill="none" stroke="#d4a8c2" stroke-width="4.1" stroke-linecap="round" stroke-linejoin="round" />
<path d="M48,567 C60,562 74,560 88,557" fill="none" stroke="#f2d3e4" stroke-width="3.0" stroke-linecap="round" stroke-linejoin="round" />
<path d="M52,571 C64,567 78,564 92,560" fill="none" stroke="#d4a8c2" stroke-width="4.1" stroke-linecap="round" stroke-linejoin="round" />
<path d="M52,571 C64,567 78,564 92,560" fill="none" stroke="#f2d3e4" stroke-width="3.0" stroke-linecap="round" stroke-linejoin="round" />
<path d="M58,562 C68,557 80,554 95,553" fill="none" stroke="#d4a8c2" stroke-width="4.1" stroke-linecap="round" stroke-linejoin="round" />
<path d="M58,562 C68,557 80,554 95,553" fill="none" stroke="#f2d3e4" stroke-width="3.0" stroke-linecap="round" stroke-linejoin="round" />
<path d="M-2.2,-3.2 L3.2,0 L-2.2,3.2 Z" fill="#f2d3e4" stroke="#d4a8c2" stroke-width="0.6" stroke-linejoin="round" transform="translate(88,557) rotate(-10)"/>
<path d="M-2.2,-3.2 L3.2,0 L-2.2,3.2 Z" fill="#f2d3e4" stroke="#d4a8c2" stroke-width="0.6" stroke-linejoin="round" transform="translate(92,560) rotate(-14)"/>
<path d="M-2.2,-3.2 L3.2,0 L-2.2,3.2 Z" fill="#f2d3e4" stroke="#d4a8c2" stroke-width="0.6" stroke-linejoin="round" transform="translate(95,553) rotate(-6)"/>
<path d="M48,566 C44,568 44,572 50,572" fill="none" stroke="#dcb6cb" stroke-width="0.9" stroke-linecap="round" stroke-linejoin="round" />
<path d="M94,552 C98,548 100,544 98,540" fill="none" stroke="#dcb6cb" stroke-width="0.9" stroke-linecap="round" stroke-linejoin="round" />
<path d="M86,566 C90,570 94,572 96,570" fill="none" stroke="#dcb6cb" stroke-width="0.9" stroke-linecap="round" stroke-linejoin="round" />
<path d="M62,570 C66,576 70,578 74,576" fill="none" stroke="#dcb6cb" stroke-width="0.9" stroke-linecap="round" stroke-linejoin="round" />
<path d="M70,552 C74,548 80,546 84,548" fill="none" stroke="#dcb6cb" stroke-width="0.9" stroke-linecap="round" stroke-linejoin="round" />
<path d="M96,560 C100,556 104,556 106,560" fill="none" stroke="#dcb6cb" stroke-width="0.9" stroke-linecap="round" stroke-linejoin="round" />
<path d="M57,588 C65,592 73,596 81,599" fill="none" stroke="#7e82bf" stroke-width="4.300000000000001" stroke-linecap="round" stroke-linejoin="round" />
<path d="M57,588 C65,592 73,596 81,599" fill="none" stroke="#a6a9de" stroke-width="3.2" stroke-linecap="round" stroke-linejoin="round" />
<path d="M68,591 C77,596 86,601 95,606" fill="none" stroke="#8d91c8" stroke-width="3.1" stroke-linecap="round" stroke-linejoin="round" />
<path d="M68,591 C77,596 86,601 95,606" fill="none" stroke="#b4b7e4" stroke-width="2.0" stroke-linecap="round" stroke-linejoin="round" />
<path d="M64,572 C70,580 76,584 80,590" fill="none" stroke="#a9a8d4" stroke-width="1.0" stroke-linecap="round" stroke-linejoin="round" />
<path d="M72,574 C80,568 86,570 88,578" fill="none" stroke="#a9a8d4" stroke-width="1.0" stroke-linecap="round" stroke-linejoin="round" />
<path d="M57,588 C53,586 55,582 60,584" fill="none" stroke="#a9a8d4" stroke-width="1.0" stroke-linecap="round" stroke-linejoin="round" />
<path d="M74,602 C70,608 72,614 80,614" fill="none" stroke="#a9a8d4" stroke-width="1.0" stroke-linecap="round" stroke-linejoin="round" />
<path d="M82,578 C86,584 86,590 84,594" fill="none" stroke="#a9a8d4" stroke-width="1.0" stroke-linecap="round" stroke-linejoin="round" />
<path d="M86,606 C90,612 92,618 96,622" fill="none" stroke="#e6c8a6" stroke-width="1.0" stroke-linecap="round" stroke-linejoin="round" />
<path d="M84,612 C80,620 84,630 90,634" fill="none" stroke="#e6c8a6" stroke-width="1.0" stroke-linecap="round" stroke-linejoin="round" />
<path d="M78,646 C82,656 90,662 100,664" fill="none" stroke="#e6c8a6" stroke-width="1.0" stroke-linecap="round" stroke-linejoin="round" />
<path d="M110,650 C116,656 112,662 106,664" fill="none" stroke="#e6c8a6" stroke-width="1.0" stroke-linecap="round" stroke-linejoin="round" />
<path d="M92,668 C98,670 104,668 108,664" fill="none" stroke="#e6c8a6" stroke-width="1.0" stroke-linecap="round" stroke-linejoin="round" />
<path d="M96,612 C102,614 106,618 108,622" fill="none" stroke="#e6c8a6" stroke-width="1.0" stroke-linecap="round" stroke-linejoin="round" />
<path d="M84,598 C88,602 90,606 92,610" fill="none" stroke="#e08a30" stroke-width="1.4" stroke-linecap="round" stroke-linejoin="round" />
<path d="M80,603 C84,601 88,600 91,602" fill="none" stroke="#e08a30" stroke-width="1.2" stroke-linecap="round" stroke-linejoin="round" />
<path d="M86,604 C90,606 92,604 94,600" fill="none" stroke="#f0b060" stroke-width="1.2" stroke-linecap="round" stroke-linejoin="round" />
<g transform="translate(95.00,620.00) rotate(31.3)">
<ellipse cx="3.37" cy="0" rx="3.90" ry="3.80" transform="skewX(-10)" fill="#f6e6cc" stroke="#b38e62" stroke-width="2.9"/>
<ellipse cx="3.37" cy="0" rx="3.90" ry="3.80" transform="skewX(-10)" fill="none" stroke="#e8c99c" stroke-width="1.7"/>
<ellipse cx="10.10" cy="0" rx="3.90" ry="3.80" transform="skewX(-10)" fill="#f6e6cc" stroke="#b38e62" stroke-width="2.9"/>
<ellipse cx="10.10" cy="0" rx="3.90" ry="3.80" transform="skewX(-10)" fill="none" stroke="#e8c99c" stroke-width="1.7"/>
<ellipse cx="16.83" cy="0" rx="3.90" ry="3.80" transform="skewX(-10)" fill="#f6e6cc" stroke="#b38e62" stroke-width="2.9"/>
<ellipse cx="16.83" cy="0" rx="3.90" ry="3.80" transform="skewX(-10)" fill="none" stroke="#e8c99c" stroke-width="1.7"/>
<ellipse cx="23.56" cy="0" rx="3.90" ry="3.80" transform="skewX(-10)" fill="#f6e6cc" stroke="#b38e62" stroke-width="2.9"/>
<ellipse cx="23.56" cy="0" rx="3.90" ry="3.80" transform="skewX(-10)" fill="none" stroke="#e8c99c" stroke-width="1.7"/>
</g>
<g transform="translate(81.00,638.00) rotate(10.7)">
<ellipse cx="3.14" cy="0" rx="3.64" ry="3.80" transform="skewX(-10)" fill="#f6e6cc" stroke="#b38e62" stroke-width="2.9"/>
<ellipse cx="3.14" cy="0" rx="3.64" ry="3.80" transform="skewX(-10)" fill="none" stroke="#e8c99c" stroke-width="1.7"/>
<ellipse cx="9.41" cy="0" rx="3.64" ry="3.80" transform="skewX(-10)" fill="#f6e6cc" stroke="#b38e62" stroke-width="2.9"/>
<ellipse cx="9.41" cy="0" rx="3.64" ry="3.80" transform="skewX(-10)" fill="none" stroke="#e8c99c" stroke-width="1.7"/>
<ellipse cx="15.69" cy="0" rx="3.64" ry="3.80" transform="skewX(-10)" fill="#f6e6cc" stroke="#b38e62" stroke-width="2.9"/>
<ellipse cx="15.69" cy="0" rx="3.64" ry="3.80" transform="skewX(-10)" fill="none" stroke="#e8c99c" stroke-width="1.7"/>
<ellipse cx="21.97" cy="0" rx="3.64" ry="3.80" transform="skewX(-10)" fill="#f6e6cc" stroke="#b38e62" stroke-width="2.9"/>
<ellipse cx="21.97" cy="0" rx="3.64" ry="3.80" transform="skewX(-10)" fill="none" stroke="#e8c99c" stroke-width="1.7"/>
<ellipse cx="28.24" cy="0" rx="3.64" ry="3.80" transform="skewX(-10)" fill="#f6e6cc" stroke="#b38e62" stroke-width="2.9"/>
<ellipse cx="28.24" cy="0" rx="3.64" ry="3.80" transform="skewX(-10)" fill="none" stroke="#e8c99c" stroke-width="1.7"/>
<ellipse cx="34.52" cy="0" rx="3.64" ry="3.80" transform="skewX(-10)" fill="#f6e6cc" stroke="#b38e62" stroke-width="2.9"/>
<ellipse cx="34.52" cy="0" rx="3.64" ry="3.80" transform="skewX(-10)" fill="none" stroke="#e8c99c" stroke-width="1.7"/>
</g>
<circle cx="88.6" cy="609" r="2.7" fill="url(#cag2)" stroke="#1f6a6c" stroke-width="0.4"/>
<circle cx="118.2" cy="621.8" r="2.7" fill="url(#cag2)" stroke="#1f6a6c" stroke-width="0.4"/>
<circle cx="78.5" cy="647.8" r="2.7" fill="url(#cag2)" stroke="#1f6a6c" stroke-width="0.4"/>
<circle cx="89.9" cy="654.1" r="2.7" fill="url(#cag2)" stroke="#1f6a6c" stroke-width="0.4"/>
<circle cx="95.3" cy="652.1" r="2.7" fill="url(#cag2)" stroke="#1f6a6c" stroke-width="0.4"/>
<circle cx="97.3" cy="655.5" r="2.7" fill="url(#cag2)" stroke="#1f6a6c" stroke-width="0.4"/>
<circle cx="100.7" cy="657.5" r="2.7" fill="url(#cag2)" stroke="#1f6a6c" stroke-width="0.4"/>
<circle cx="104.7" cy="660.2" r="2.7" fill="url(#cag2)" stroke="#1f6a6c" stroke-width="0.4"/>
<text x="152.80" y="508.80" font-size="9.1" text-anchor="start" fill="#231f20" font-weight="normal" >Serine</text>
<text x="152.80" y="519.80" font-size="9.1" text-anchor="start" fill="#231f20" font-weight="normal" >protease</text>
<text x="165.40" y="565.90" font-size="9.1" text-anchor="start" fill="#231f20" font-weight="normal" >Activation</text>
<text x="165.40" y="576.80" font-size="9.1" text-anchor="start" fill="#231f20" font-weight="normal" >peptide</text>
<text x="93.80" y="577.50" font-size="9.1" text-anchor="start" fill="#231f20" font-weight="normal" >EGF-2</text>
<text x="102.30" y="599.90" font-size="9.1" text-anchor="start" fill="#231f20" font-weight="normal" >EGF-1</text>
<text x="129.80" y="620.80" font-size="9.1" text-anchor="start" fill="#231f20" font-weight="normal" >Calcium ion</text>
<text x="128.70" y="653.70" font-size="9.1" text-anchor="start" fill="#231f20" font-weight="normal" >Gla</text>
<text x="349.40" y="485.60" font-size="9" text-anchor="start" fill="#231f20" font-weight="normal" >EGF-1</text>
<line x1="294.70" y1="490.40" x2="445.40" y2="490.40" stroke="#111" stroke-width="1.2" />
<line x1="311.00" y1="566.30" x2="318.00" y2="541.20" stroke="#7fbccb" stroke-width="1.3" />
<line x1="311.00" y1="566.30" x2="293.10" y2="550.10" stroke="#7fbccb" stroke-width="1.3" />
<line x1="311.00" y1="566.30" x2="283.80" y2="561.20" stroke="#7fbccb" stroke-width="1.3" />
<line x1="311.00" y1="566.30" x2="333.80" y2="579.30" stroke="#7fbccb" stroke-width="1.3" />
<line x1="311.00" y1="566.30" x2="325.60" y2="589.60" stroke="#7fbccb" stroke-width="1.3" />
<line x1="331.50" y1="537.60" x2="349.80" y2="556.90" stroke="#111" stroke-width="1.3" />
<line x1="361.50" y1="514.50" x2="372.30" y2="569.80" stroke="#111" stroke-width="1.3" />
<line x1="392.80" y1="551.70" x2="421.50" y2="607.90" stroke="#111" stroke-width="1.3" />
<circle cx="274.60" cy="571.20" r="6.8" fill="#b2bcd9" stroke="#2c4e60" stroke-width="1.45" />
<text x="274.60" y="573.90" font-size="7.7" text-anchor="middle" fill="#35264f" font-weight="normal" stroke="#35264f" stroke-width="0.1">V</text>
<circle cx="283.80" cy="561.20" r="7.0" fill="#f7c391" stroke="none" stroke-width="0" />
<text x="283.80" y="563.90" font-size="7.7" text-anchor="middle" fill="#6b3a12" font-weight="normal" stroke="#6b3a12" stroke-width="0.1">D</text>
<circle cx="293.10" cy="550.10" r="7.0" fill="#f7c391" stroke="none" stroke-width="0" />
<text x="293.10" y="552.80" font-size="7.7" text-anchor="middle" fill="#6b3a12" font-weight="normal" stroke="#6b3a12" stroke-width="0.1">G</text>
<circle cx="305.70" cy="542.40" r="6.8" fill="#eeeef7" stroke="#2c4e60" stroke-width="1.45" />
<text x="305.70" y="545.10" font-size="7.7" text-anchor="middle" fill="#4a3060" font-weight="normal" stroke="#4a3060" stroke-width="0.1">D</text>
<circle cx="318.00" cy="541.20" r="7.0" fill="#f7c391" stroke="none" stroke-width="0" />
<text x="318.00" y="543.90" font-size="7.7" text-anchor="middle" fill="#6b3a12" font-weight="normal" stroke="#6b3a12" stroke-width="0.1">Q</text>
<circle cx="331.50" cy="537.60" r="6.8" fill="#b2bcd9" stroke="#2c4e60" stroke-width="1.45" />
<text x="331.50" y="540.30" font-size="7.7" text-anchor="middle" fill="#35264f" font-weight="normal" stroke="#35264f" stroke-width="0.1">C</text>
<circle cx="334.20" cy="523.10" r="6.8" fill="#eeeef7" stroke="#2c4e60" stroke-width="1.45" />
<text x="334.20" y="525.80" font-size="7.7" text-anchor="middle" fill="#4a3060" font-weight="normal" stroke="#4a3060" stroke-width="0.1">E</text>
<circle cx="330.80" cy="509.80" r="6.8" fill="#eeeef7" stroke="#2c4e60" stroke-width="1.45" />
<text x="330.80" y="512.50" font-size="7.7" text-anchor="middle" fill="#4a3060" font-weight="normal" stroke="#4a3060" stroke-width="0.1">S</text>
<circle cx="340.80" cy="500.30" r="6.8" fill="#b2bcd9" stroke="#2c4e60" stroke-width="1.45" />
<text x="340.80" y="503.00" font-size="7.7" text-anchor="middle" fill="#35264f" font-weight="normal" stroke="#35264f" stroke-width="0.1">N</text>
<circle cx="354.60" cy="502.60" r="6.8" fill="#b2bcd9" stroke="#2c4e60" stroke-width="1.45" />
<text x="354.60" y="505.30" font-size="7.7" text-anchor="middle" fill="#35264f" font-weight="normal" stroke="#35264f" stroke-width="0.1">P</text>
<circle cx="361.50" cy="514.50" r="6.8" fill="#b2bcd9" stroke="#2c4e60" stroke-width="1.45" />
<text x="361.50" y="517.20" font-size="7.7" text-anchor="middle" fill="#35264f" font-weight="normal" stroke="#35264f" stroke-width="0.1">C</text>
<circle cx="375.40" cy="514.20" r="6.8" fill="#b2bcd9" stroke="#2c4e60" stroke-width="1.45" />
<text x="375.40" y="516.90" font-size="7.7" text-anchor="middle" fill="#35264f" font-weight="normal" stroke="#35264f" stroke-width="0.1">L</text>
<circle cx="387.70" cy="520.00" r="6.8" fill="#eeeef7" stroke="#2c4e60" stroke-width="1.45" />
<text x="387.70" y="522.70" font-size="7.7" text-anchor="middle" fill="#4a3060" font-weight="normal" stroke="#4a3060" stroke-width="0.1">N</text>
<circle cx="383.10" cy="532.90" r="6.8" fill="#b2bcd9" stroke="#2c4e60" stroke-width="1.45" />
<text x="383.10" y="535.60" font-size="7.7" text-anchor="middle" fill="#35264f" font-weight="normal" stroke="#35264f" stroke-width="0.1">G</text>
<circle cx="370.80" cy="539.50" r="6.8" fill="#b2bcd9" stroke="#2c4e60" stroke-width="1.45" />
<text x="370.80" y="542.20" font-size="7.7" text-anchor="middle" fill="#35264f" font-weight="normal" stroke="#35264f" stroke-width="0.1">G</text>
<circle cx="359.00" cy="546.50" r="6.8" fill="#b2bcd9" stroke="#2c4e60" stroke-width="1.45" />
<text x="359.00" y="549.20" font-size="7.7" text-anchor="middle" fill="#35264f" font-weight="normal" stroke="#35264f" stroke-width="0.1">S</text>
<circle cx="349.80" cy="556.90" r="6.8" fill="#b2bcd9" stroke="#2c4e60" stroke-width="1.45" />
<text x="349.80" y="559.60" font-size="7.7" text-anchor="middle" fill="#35264f" font-weight="normal" stroke="#35264f" stroke-width="0.1">C</text>
<circle cx="339.90" cy="567.30" r="6.8" fill="#b2bcd9" stroke="#2c4e60" stroke-width="1.45" />
<text x="339.90" y="570.00" font-size="7.7" text-anchor="middle" fill="#35264f" font-weight="normal" stroke="#35264f" stroke-width="0.1">K</text>
<circle cx="333.80" cy="579.30" r="7.0" fill="#f7c391" stroke="none" stroke-width="0" />
<text x="333.80" y="582.00" font-size="7.7" text-anchor="middle" fill="#6b3a12" font-weight="normal" stroke="#6b3a12" stroke-width="0.1">β</text>
<circle cx="325.60" cy="589.60" r="7.0" fill="#f7c391" stroke="none" stroke-width="0" />
<text x="325.60" y="592.30" font-size="7.7" text-anchor="middle" fill="#6b3a12" font-weight="normal" stroke="#6b3a12" stroke-width="0.1">D</text>
<circle cx="325.00" cy="603.50" r="6.8" fill="#b2bcd9" stroke="#2c4e60" stroke-width="1.45" />
<text x="325.00" y="606.20" font-size="7.7" text-anchor="middle" fill="#35264f" font-weight="normal" stroke="#35264f" stroke-width="0.1">I</text>
<circle cx="337.30" cy="611.20" r="6.8" fill="#b2bcd9" stroke="#2c4e60" stroke-width="1.45" />
<text x="337.30" y="613.90" font-size="7.7" text-anchor="middle" fill="#35264f" font-weight="normal" stroke="#35264f" stroke-width="0.1">N</text>
<circle cx="348.80" cy="603.50" r="6.8" fill="#b2bcd9" stroke="#2c4e60" stroke-width="1.45" />
<text x="348.80" y="606.20" font-size="7.7" text-anchor="middle" fill="#35264f" font-weight="normal" stroke="#35264f" stroke-width="0.1">S</text>
<circle cx="356.50" cy="591.90" r="6.8" fill="#b2bcd9" stroke="#2c4e60" stroke-width="1.45" />
<text x="356.50" y="594.60" font-size="7.7" text-anchor="middle" fill="#35264f" font-weight="normal" stroke="#35264f" stroke-width="0.1">Y</text>
<circle cx="364.20" cy="580.80" r="6.8" fill="#b2bcd9" stroke="#2c4e60" stroke-width="1.45" />
<text x="364.20" y="583.50" font-size="7.7" text-anchor="middle" fill="#35264f" font-weight="normal" stroke="#35264f" stroke-width="0.1">E</text>
<circle cx="372.30" cy="569.80" r="6.8" fill="#b2bcd9" stroke="#2c4e60" stroke-width="1.45" />
<text x="372.30" y="572.50" font-size="7.7" text-anchor="middle" fill="#35264f" font-weight="normal" stroke="#35264f" stroke-width="0.1">C</text>
<circle cx="381.40" cy="558.80" r="6.8" fill="#b2bcd9" stroke="#2c4e60" stroke-width="1.45" />
<text x="381.40" y="561.50" font-size="7.7" text-anchor="middle" fill="#35264f" font-weight="normal" stroke="#35264f" stroke-width="0.1">W</text>
<circle cx="392.80" cy="551.70" r="6.8" fill="#b2bcd9" stroke="#2c4e60" stroke-width="1.45" />
<text x="392.80" y="554.40" font-size="7.7" text-anchor="middle" fill="#35264f" font-weight="normal" stroke="#35264f" stroke-width="0.1">C</text>
<circle cx="405.00" cy="545.70" r="6.8" fill="#b2bcd9" stroke="#2c4e60" stroke-width="1.45" />
<text x="405.00" y="548.40" font-size="7.7" text-anchor="middle" fill="#35264f" font-weight="normal" stroke="#35264f" stroke-width="0.1">P</text>
<circle cx="419.40" cy="545.60" r="6.8" fill="#b2bcd9" stroke="#2c4e60" stroke-width="1.45" />
<text x="419.40" y="548.30" font-size="7.7" text-anchor="middle" fill="#35264f" font-weight="normal" stroke="#35264f" stroke-width="0.1">F</text>
<circle cx="426.40" cy="556.70" r="6.8" fill="#b2bcd9" stroke="#2c4e60" stroke-width="1.45" />
<text x="426.40" y="559.40" font-size="7.7" text-anchor="middle" fill="#35264f" font-weight="normal" stroke="#35264f" stroke-width="0.1">G</text>
<circle cx="421.50" cy="569.80" r="6.8" fill="#eeeef7" stroke="#2c4e60" stroke-width="1.45" />
<text x="421.50" y="572.50" font-size="7.7" text-anchor="middle" fill="#4a3060" font-weight="normal" stroke="#4a3060" stroke-width="0.1">F</text>
<circle cx="412.00" cy="579.30" r="6.8" fill="#b2bcd9" stroke="#2c4e60" stroke-width="1.45" />
<text x="412.00" y="582.00" font-size="7.7" text-anchor="middle" fill="#35264f" font-weight="normal" stroke="#35264f" stroke-width="0.1">E</text>
<circle cx="402.50" cy="589.60" r="6.8" fill="#b2bcd9" stroke="#2c4e60" stroke-width="1.45" />
<text x="402.50" y="592.30" font-size="7.7" text-anchor="middle" fill="#35264f" font-weight="normal" stroke="#35264f" stroke-width="0.1">G</text>
<circle cx="398.10" cy="602.30" r="6.8" fill="#b2bcd9" stroke="#2c4e60" stroke-width="1.45" />
<text x="398.10" y="605.00" font-size="7.7" text-anchor="middle" fill="#35264f" font-weight="normal" stroke="#35264f" stroke-width="0.1">K</text>
<circle cx="408.00" cy="611.30" r="6.8" fill="#eeeef7" stroke="#2c4e60" stroke-width="1.45" />
<text x="408.00" y="614.00" font-size="7.7" text-anchor="middle" fill="#4a3060" font-weight="normal" stroke="#4a3060" stroke-width="0.1">N</text>
<circle cx="421.50" cy="607.90" r="6.8" fill="#b2bcd9" stroke="#2c4e60" stroke-width="1.45" />
<text x="421.50" y="610.60" font-size="7.7" text-anchor="middle" fill="#35264f" font-weight="normal" stroke="#35264f" stroke-width="0.1">C</text>
<circle cx="431.60" cy="599.20" r="6.8" fill="#eeeef7" stroke="#2c4e60" stroke-width="1.45" />
<text x="431.60" y="601.90" font-size="7.7" text-anchor="middle" fill="#4a3060" font-weight="normal" stroke="#4a3060" stroke-width="0.1">E</text>
<circle cx="441.40" cy="588.90" r="6.8" fill="#b2bcd9" stroke="#2c4e60" stroke-width="1.45" />
<text x="441.40" y="591.60" font-size="7.7" text-anchor="middle" fill="#35264f" font-weight="normal" stroke="#35264f" stroke-width="0.1">L</text>
<defs><radialGradient id="cag" cx="0.4" cy="0.35" r="0.7"><stop offset="0" stop-color="#8fe0e0"/><stop offset="0.6" stop-color="#2a9a9c"/><stop offset="1" stop-color="#1d6f72"/></radialGradient></defs>
<circle cx="311.00" cy="566.30" r="4.6" fill="url(#cag)" stroke="none" stroke-width="0" />
<text x="267.70" y="570.20" font-size="7.6" text-anchor="end" fill="#333" font-weight="normal" >92</text>
<text x="274.60" y="556.50" font-size="7.6" text-anchor="middle" fill="#333" font-weight="normal" >93</text>
<text x="284.60" y="544.60" font-size="7.6" text-anchor="middle" fill="#333" font-weight="normal" >94</text>
<text x="304.60" y="535.00" font-size="7.6" text-anchor="middle" fill="#333" font-weight="normal" >95</text>
<text x="318.50" y="534.30" font-size="7.6" text-anchor="middle" fill="#333" font-weight="normal" >96</text>
<text x="327.70" y="526.10" font-size="7.6" text-anchor="end" fill="#333" font-weight="normal" >98</text>
<text x="324.20" y="512.80" font-size="7.6" text-anchor="end" fill="#333" font-weight="normal" >99</text>
<text x="395.50" y="523.10" font-size="7.6" text-anchor="start" fill="#333" font-weight="normal" >104</text>
<text x="340.80" y="585.40" font-size="7.6" text-anchor="start" fill="#333" font-weight="normal" >110</text>
<text x="332.50" y="595.40" font-size="7.6" text-anchor="start" fill="#333" font-weight="normal" >111</text>
<text x="430.70" y="574.50" font-size="7.6" text-anchor="start" fill="#333" font-weight="normal" >123</text>
<text x="418.40" y="589.20" font-size="7.6" text-anchor="start" fill="#333" font-weight="normal" >124</text>
<text x="409.40" y="625.50" font-size="7.6" text-anchor="middle" fill="#333" font-weight="normal" >127</text>
<text x="440.90" y="608.20" font-size="7.6" text-anchor="start" fill="#333" font-weight="normal" >129</text>
<circle cx="277.50" cy="638.00" r="6.2" fill="#f6c18d" stroke="none" stroke-width="0" />
<line x1="273.50" y1="638.00" x2="281.50" y2="638.00" stroke="#8fc3cc" stroke-width="1.0" />
<text x="289.50" y="640.40" font-size="9.1" text-anchor="start" fill="#231f20" font-weight="normal" >Calcium ion</text>
<text x="289.50" y="651.90" font-size="9.1" text-anchor="start" fill="#231f20" font-weight="normal" >coordination</text>
<circle cx="277.50" cy="664.50" r="6.0" fill="#e6e6f4" stroke="#1f6070" stroke-width="1.3" />
<text x="289.50" y="667.70" font-size="9.1" text-anchor="start" fill="#231f20" font-weight="normal" >Interaction with TF</text>
<circle cx="386.90" cy="638.00" r="5.2" fill="url(#cag)" stroke="none" stroke-width="0" />
<text x="397.10" y="640.40" font-size="9.1" text-anchor="start" fill="#231f20" font-weight="normal" >Calcium ion</text>
<line x1="381.50" y1="652.40" x2="391.50" y2="652.40" stroke="#111" stroke-width="1.3" />
<text x="397.10" y="654.80" font-size="9.1" text-anchor="start" fill="#231f20" font-weight="normal" >Disulphide bonds</text>
<text x="382.00" y="668.30" font-size="9.1" text-anchor="start" fill="#231f20" font-weight="normal" textLength="9.6" lengthAdjust="spacingAndGlyphs">(–)</text>
<text x="397.10" y="668.80" font-size="9.1" text-anchor="start" fill="#231f20" font-weight="normal" >Negatively charged residue</text>
<rect x="73.40" y="696.90" width="9.20" height="50.20" fill="#7dc6c5" />
<rect x="83.69" y="696.90" width="9.20" height="50.20" fill="#f2945b" />
<rect x="93.98" y="696.90" width="9.20" height="50.20" fill="#7dc6c5" />
<rect x="104.27" y="696.90" width="9.20" height="50.20" fill="#b5dcc3" />
<rect x="114.56" y="696.90" width="9.20" height="50.20" fill="#e0321f" />
<rect x="124.85" y="696.90" width="9.20" height="16.70" fill="#fbe5c0" />
<rect x="124.85" y="713.60" width="9.20" height="16.60" fill="#f2eff2" />
<rect x="124.85" y="730.20" width="9.20" height="16.90" fill="#fbe5c0" />
<rect x="135.14" y="696.90" width="9.20" height="33.30" fill="#eac6da" />
<rect x="135.14" y="730.20" width="9.20" height="16.90" fill="#4a86c6" />
<rect x="145.43" y="696.90" width="9.20" height="16.70" fill="#9a9a9a" />
<rect x="145.43" y="713.60" width="9.20" height="33.50" fill="#eac6da" />
<rect x="155.72" y="696.90" width="9.20" height="50.20" fill="#f0eef3" />
<rect x="166.01" y="696.90" width="9.20" height="50.20" fill="#e0321f" />
<rect x="176.30" y="696.90" width="9.20" height="16.70" fill="#d9d9dd" />
<rect x="176.30" y="713.60" width="9.20" height="33.50" fill="#b5dcc3" />
<rect x="186.59" y="696.90" width="9.20" height="50.20" fill="#9a9a9a" />
<rect x="196.88" y="696.90" width="9.20" height="33.30" fill="#f2945b" />
<rect x="196.88" y="730.20" width="9.20" height="16.90" fill="#b5dcc3" />
<rect x="207.17" y="696.90" width="9.20" height="50.20" fill="#f2945b" />
<rect x="217.46" y="696.90" width="9.20" height="33.30" fill="#eac6da" />
<rect x="217.46" y="730.20" width="9.20" height="16.90" fill="#e2e2e6" />
<rect x="227.75" y="696.90" width="9.20" height="50.20" fill="#e0321f" />
<rect x="238.04" y="696.90" width="9.20" height="50.20" fill="#e2e2e6" />
<rect x="248.33" y="696.90" width="9.20" height="50.20" fill="#7dc6c5" />
<rect x="258.62" y="696.90" width="9.20" height="16.70" fill="#7dc6c5" />
<rect x="258.62" y="713.60" width="9.20" height="16.60" fill="#b5dcc3" />
<rect x="258.62" y="730.20" width="9.20" height="16.90" fill="#f2945b" />
<rect x="268.91" y="696.90" width="9.20" height="16.70" fill="#a0a0a0" />
<rect x="268.91" y="713.60" width="9.20" height="33.50" fill="#d9d9dd" />
<rect x="279.20" y="696.90" width="9.20" height="16.70" fill="#9a9a9a" />
<rect x="279.20" y="713.60" width="9.20" height="16.60" fill="#b5dcc3" />
<rect x="279.20" y="730.20" width="9.20" height="16.90" fill="#f2945b" />
<rect x="289.49" y="696.90" width="9.20" height="33.30" fill="#eac6da" />
<rect x="289.49" y="730.20" width="9.20" height="16.90" fill="#fbe5c0" />
<rect x="299.78" y="696.90" width="9.20" height="50.20" fill="#c8c8cc" />
<rect x="310.07" y="696.90" width="9.20" height="16.70" fill="#fbe5c0" />
<rect x="310.07" y="713.60" width="9.20" height="16.60" fill="#a0a0a0" />
<rect x="310.07" y="730.20" width="9.20" height="16.90" fill="#4a86c6" />
<rect x="320.36" y="696.90" width="9.20" height="50.20" fill="#e0321f" />
<rect x="330.65" y="696.90" width="9.20" height="33.30" fill="#bfd5d1" />
<rect x="330.65" y="730.20" width="9.20" height="16.90" fill="#4a86c6" />
<rect x="340.94" y="696.90" width="9.20" height="50.20" fill="#e0321f" />
<rect x="351.23" y="696.90" width="9.20" height="16.70" fill="#f0eef3" />
<rect x="351.23" y="713.60" width="9.20" height="33.50" fill="#d9d9dd" />
<rect x="361.52" y="696.90" width="9.20" height="16.70" fill="#bfd5d1" />
<rect x="361.52" y="713.60" width="9.20" height="16.60" fill="#f0eef3" />
<rect x="361.52" y="730.20" width="9.20" height="16.90" fill="#fbe5c0" />
<rect x="371.81" y="696.90" width="9.20" height="16.70" fill="#f2945b" />
<rect x="371.81" y="713.60" width="9.20" height="16.60" fill="#f2eff2" />
<rect x="371.81" y="730.20" width="9.20" height="16.90" fill="#f2945b" />
<rect x="382.10" y="696.90" width="9.20" height="50.20" fill="#bfd5d1" />
<rect x="392.39" y="696.90" width="9.20" height="50.20" fill="#fbe5c0" />
<rect x="402.68" y="696.90" width="9.20" height="50.20" fill="#f2945b" />
<rect x="412.97" y="696.90" width="9.20" height="16.70" fill="#e2e2e6" />
<rect x="412.97" y="713.60" width="9.20" height="16.60" fill="#8c9ba3" />
<rect x="412.97" y="730.20" width="9.20" height="16.90" fill="#e2e2e6" />
<rect x="423.26" y="696.90" width="9.20" height="50.20" fill="#9a9a9a" />
<rect x="433.55" y="696.90" width="9.20" height="50.20" fill="#e0321f" />
<rect x="443.84" y="696.90" width="9.20" height="50.20" fill="#fbe5c0" />
<text x="78.00" y="708.80" font-size="9.6" text-anchor="middle" fill="#164a55" font-weight="normal" stroke="#164a55" stroke-width="0.3">D</text>
<circle cx="78.00" cy="697.90" r="1.1" fill="#111" stroke="none" stroke-width="0" />
<text x="88.29" y="708.80" font-size="9.6" text-anchor="middle" fill="#5e2410" font-weight="normal" stroke="#5e2410" stroke-width="0.3">G</text>
<circle cx="88.29" cy="697.90" r="1.1" fill="#111" stroke="none" stroke-width="0" />
<text x="98.58" y="708.80" font-size="9.6" text-anchor="middle" fill="#164a55" font-weight="normal" stroke="#164a55" stroke-width="0.3">D</text>
<circle cx="98.58" cy="697.90" r="1.1" fill="#111" stroke="none" stroke-width="0" />
<text x="108.87" y="708.80" font-size="9.6" text-anchor="middle" fill="#1f4a2e" font-weight="normal" stroke="#1f4a2e" stroke-width="0.3">Q</text>
<circle cx="108.87" cy="697.90" r="1.1" fill="#111" stroke="none" stroke-width="0" />
<text x="119.16" y="708.80" font-size="9.6" text-anchor="middle" fill="#6e1208" font-weight="normal" stroke="#6e1208" stroke-width="0.3">C</text>
<circle cx="119.16" cy="697.90" r="1.1" fill="#111" stroke="none" stroke-width="0" />
<text x="129.45" y="708.80" font-size="9.6" text-anchor="middle" fill="#4a3a18" font-weight="normal" stroke="#4a3a18" stroke-width="0.3">E</text>
<text x="139.74" y="708.80" font-size="9.6" text-anchor="middle" fill="#4a1f40" font-weight="normal" stroke="#4a1f40" stroke-width="0.3">S</text>
<text x="150.03" y="708.80" font-size="9.6" text-anchor="middle" fill="#222" font-weight="normal" stroke="#222" stroke-width="0.3">N</text>
<text x="160.32" y="708.80" font-size="9.6" text-anchor="middle" fill="#2a2a2a" font-weight="normal" stroke="#2a2a2a" stroke-width="0.3">P</text>
<text x="170.61" y="708.80" font-size="9.6" text-anchor="middle" fill="#6e1208" font-weight="normal" stroke="#6e1208" stroke-width="0.3">C</text>
<text x="180.90" y="708.80" font-size="9.6" text-anchor="middle" fill="#2a2a2a" font-weight="normal" stroke="#2a2a2a" stroke-width="0.3">L</text>
<text x="191.19" y="708.80" font-size="9.6" text-anchor="middle" fill="#222" font-weight="normal" stroke="#222" stroke-width="0.3">N</text>
<text x="201.48" y="708.80" font-size="9.6" text-anchor="middle" fill="#5e2410" font-weight="normal" stroke="#5e2410" stroke-width="0.3">G</text>
<text x="211.77" y="708.80" font-size="9.6" text-anchor="middle" fill="#5e2410" font-weight="normal" stroke="#5e2410" stroke-width="0.3">G</text>
<text x="222.06" y="708.80" font-size="9.6" text-anchor="middle" fill="#4a1f40" font-weight="normal" stroke="#4a1f40" stroke-width="0.3">S</text>
<text x="232.35" y="708.80" font-size="9.6" text-anchor="middle" fill="#6e1208" font-weight="normal" stroke="#6e1208" stroke-width="0.3">C</text>
<text x="242.64" y="708.80" font-size="9.6" text-anchor="middle" fill="#2a2a2a" font-weight="normal" stroke="#2a2a2a" stroke-width="0.3">K</text>
<text x="252.93" y="708.80" font-size="9.6" text-anchor="middle" fill="#164a55" font-weight="normal" stroke="#164a55" stroke-width="0.3">D</text>
<text x="263.22" y="708.80" font-size="9.6" text-anchor="middle" fill="#164a55" font-weight="normal" stroke="#164a55" stroke-width="0.3">D</text>
<text x="273.51" y="708.80" font-size="9.6" text-anchor="middle" fill="#222" font-weight="normal" stroke="#222" stroke-width="0.3">I</text>
<text x="283.80" y="708.80" font-size="9.6" text-anchor="middle" fill="#222" font-weight="normal" stroke="#222" stroke-width="0.3">N</text>
<text x="294.09" y="708.80" font-size="9.6" text-anchor="middle" fill="#4a1f40" font-weight="normal" stroke="#4a1f40" stroke-width="0.3">S</text>
<text x="304.38" y="708.80" font-size="9.6" text-anchor="middle" fill="#2a2a2a" font-weight="normal" stroke="#2a2a2a" stroke-width="0.3">Y</text>
<text x="314.67" y="708.80" font-size="9.6" text-anchor="middle" fill="#4a3a18" font-weight="normal" stroke="#4a3a18" stroke-width="0.3">E</text>
<text x="324.96" y="708.80" font-size="9.6" text-anchor="middle" fill="#6e1208" font-weight="normal" stroke="#6e1208" stroke-width="0.3">C</text>
<text x="335.25" y="708.80" font-size="9.6" text-anchor="middle" fill="#2a2a2a" font-weight="normal" stroke="#2a2a2a" stroke-width="0.3">W</text>
<text x="345.54" y="708.80" font-size="9.6" text-anchor="middle" fill="#6e1208" font-weight="normal" stroke="#6e1208" stroke-width="0.3">C</text>
<text x="355.83" y="708.80" font-size="9.6" text-anchor="middle" fill="#2a2a2a" font-weight="normal" stroke="#2a2a2a" stroke-width="0.3">P</text>
<text x="366.12" y="708.80" font-size="9.6" text-anchor="middle" fill="#2a2a2a" font-weight="normal" stroke="#2a2a2a" stroke-width="0.3">F</text>
<text x="376.41" y="708.80" font-size="9.6" text-anchor="middle" fill="#5e2410" font-weight="normal" stroke="#5e2410" stroke-width="0.3">G</text>
<text x="386.70" y="708.80" font-size="9.6" text-anchor="middle" fill="#2a2a2a" font-weight="normal" stroke="#2a2a2a" stroke-width="0.3">F</text>
<text x="396.99" y="708.80" font-size="9.6" text-anchor="middle" fill="#4a3a18" font-weight="normal" stroke="#4a3a18" stroke-width="0.3">E</text>
<text x="407.28" y="708.80" font-size="9.6" text-anchor="middle" fill="#5e2410" font-weight="normal" stroke="#5e2410" stroke-width="0.3">G</text>
<text x="417.57" y="708.80" font-size="9.6" text-anchor="middle" fill="#2a2a2a" font-weight="normal" stroke="#2a2a2a" stroke-width="0.3">K</text>
<text x="427.86" y="708.80" font-size="9.6" text-anchor="middle" fill="#222" font-weight="normal" stroke="#222" stroke-width="0.3">N</text>
<text x="438.15" y="708.80" font-size="9.6" text-anchor="middle" fill="#6e1208" font-weight="normal" stroke="#6e1208" stroke-width="0.3">C</text>
<text x="448.44" y="708.80" font-size="9.6" text-anchor="middle" fill="#4a3a18" font-weight="normal" stroke="#4a3a18" stroke-width="0.3">E</text>
<text x="78.00" y="725.20" font-size="9.6" text-anchor="middle" fill="#164a55" font-weight="normal" stroke="#164a55" stroke-width="0.3">D</text>
<circle cx="78.00" cy="714.70" r="1.1" fill="#111" stroke="none" stroke-width="0" />
<text x="88.29" y="725.20" font-size="9.6" text-anchor="middle" fill="#5e2410" font-weight="normal" stroke="#5e2410" stroke-width="0.3">G</text>
<circle cx="88.29" cy="714.70" r="1.1" fill="#111" stroke="none" stroke-width="0" />
<text x="98.58" y="725.20" font-size="9.6" text-anchor="middle" fill="#164a55" font-weight="normal" stroke="#164a55" stroke-width="0.3">D</text>
<circle cx="98.58" cy="714.70" r="1.1" fill="#111" stroke="none" stroke-width="0" />
<text x="108.87" y="725.20" font-size="9.6" text-anchor="middle" fill="#1f4a2e" font-weight="normal" stroke="#1f4a2e" stroke-width="0.3">Q</text>
<circle cx="108.87" cy="714.70" r="1.1" fill="#111" stroke="none" stroke-width="0" />
<text x="119.16" y="725.20" font-size="9.6" text-anchor="middle" fill="#6e1208" font-weight="normal" stroke="#6e1208" stroke-width="0.3">C</text>
<circle cx="119.16" cy="714.70" r="1.1" fill="#111" stroke="none" stroke-width="0" />
<text x="129.45" y="725.20" font-size="9.6" text-anchor="middle" fill="#2a2a2a" font-weight="normal" stroke="#2a2a2a" stroke-width="0.3">A</text>
<text x="139.74" y="725.20" font-size="9.6" text-anchor="middle" fill="#4a1f40" font-weight="normal" stroke="#4a1f40" stroke-width="0.3">S</text>
<text x="150.03" y="725.20" font-size="9.6" text-anchor="middle" fill="#4a1f40" font-weight="normal" stroke="#4a1f40" stroke-width="0.3">S</text>
<text x="160.32" y="725.20" font-size="9.6" text-anchor="middle" fill="#2a2a2a" font-weight="normal" stroke="#2a2a2a" stroke-width="0.3">P</text>
<text x="170.61" y="725.20" font-size="9.6" text-anchor="middle" fill="#6e1208" font-weight="normal" stroke="#6e1208" stroke-width="0.3">C</text>
<text x="180.90" y="725.20" font-size="9.6" text-anchor="middle" fill="#1f4a2e" font-weight="normal" stroke="#1f4a2e" stroke-width="0.3">Q</text>
<text x="191.19" y="725.20" font-size="9.6" text-anchor="middle" fill="#222" font-weight="normal" stroke="#222" stroke-width="0.3">N</text>
<text x="201.48" y="725.20" font-size="9.6" text-anchor="middle" fill="#5e2410" font-weight="normal" stroke="#5e2410" stroke-width="0.3">G</text>
<text x="211.77" y="725.20" font-size="9.6" text-anchor="middle" fill="#5e2410" font-weight="normal" stroke="#5e2410" stroke-width="0.3">G</text>
<text x="222.06" y="725.20" font-size="9.6" text-anchor="middle" fill="#4a1f40" font-weight="normal" stroke="#4a1f40" stroke-width="0.3">S</text>
<text x="232.35" y="725.20" font-size="9.6" text-anchor="middle" fill="#6e1208" font-weight="normal" stroke="#6e1208" stroke-width="0.3">C</text>
<text x="242.64" y="725.20" font-size="9.6" text-anchor="middle" fill="#2a2a2a" font-weight="normal" stroke="#2a2a2a" stroke-width="0.3">K</text>
<text x="252.93" y="725.20" font-size="9.6" text-anchor="middle" fill="#164a55" font-weight="normal" stroke="#164a55" stroke-width="0.3">D</text>
<text x="263.22" y="725.20" font-size="9.6" text-anchor="middle" fill="#1f4a2e" font-weight="normal" stroke="#1f4a2e" stroke-width="0.3">Q</text>
<text x="273.51" y="725.20" font-size="9.6" text-anchor="middle" fill="#2a2a2a" font-weight="normal" stroke="#2a2a2a" stroke-width="0.3">L</text>
<text x="283.80" y="725.20" font-size="9.6" text-anchor="middle" fill="#1f4a2e" font-weight="normal" stroke="#1f4a2e" stroke-width="0.3">Q</text>
<text x="294.09" y="725.20" font-size="9.6" text-anchor="middle" fill="#4a1f40" font-weight="normal" stroke="#4a1f40" stroke-width="0.3">S</text>
<text x="304.38" y="725.20" font-size="9.6" text-anchor="middle" fill="#2a2a2a" font-weight="normal" stroke="#2a2a2a" stroke-width="0.3">Y</text>
<text x="314.67" y="725.20" font-size="9.6" text-anchor="middle" fill="#222" font-weight="normal" stroke="#222" stroke-width="0.3">I</text>
<text x="324.96" y="725.20" font-size="9.6" text-anchor="middle" fill="#6e1208" font-weight="normal" stroke="#6e1208" stroke-width="0.3">C</text>
<text x="335.25" y="725.20" font-size="9.6" text-anchor="middle" fill="#2a2a2a" font-weight="normal" stroke="#2a2a2a" stroke-width="0.3">F</text>
<text x="345.54" y="725.20" font-size="9.6" text-anchor="middle" fill="#6e1208" font-weight="normal" stroke="#6e1208" stroke-width="0.3">C</text>
<text x="355.83" y="725.20" font-size="9.6" text-anchor="middle" fill="#2a2a2a" font-weight="normal" stroke="#2a2a2a" stroke-width="0.3">L</text>
<text x="366.12" y="725.20" font-size="9.6" text-anchor="middle" fill="#2a2a2a" font-weight="normal" stroke="#2a2a2a" stroke-width="0.3">P</text>
<text x="376.41" y="725.20" font-size="9.6" text-anchor="middle" fill="#2a2a2a" font-weight="normal" stroke="#2a2a2a" stroke-width="0.3">A</text>
<text x="386.70" y="725.20" font-size="9.6" text-anchor="middle" fill="#2a2a2a" font-weight="normal" stroke="#2a2a2a" stroke-width="0.3">F</text>
<text x="396.99" y="725.20" font-size="9.6" text-anchor="middle" fill="#4a3a18" font-weight="normal" stroke="#4a3a18" stroke-width="0.3">E</text>
<text x="407.28" y="725.20" font-size="9.6" text-anchor="middle" fill="#5e2410" font-weight="normal" stroke="#5e2410" stroke-width="0.3">G</text>
<text x="417.57" y="725.20" font-size="9.6" text-anchor="middle" fill="#1a1a1a" font-weight="normal" stroke="#1a1a1a" stroke-width="0.3">R</text>
<text x="427.86" y="725.20" font-size="9.6" text-anchor="middle" fill="#222" font-weight="normal" stroke="#222" stroke-width="0.3">N</text>
<text x="438.15" y="725.20" font-size="9.6" text-anchor="middle" fill="#6e1208" font-weight="normal" stroke="#6e1208" stroke-width="0.3">C</text>
<text x="448.44" y="725.20" font-size="9.6" text-anchor="middle" fill="#4a3a18" font-weight="normal" stroke="#4a3a18" stroke-width="0.3">E</text>
<text x="78.00" y="741.50" font-size="9.6" text-anchor="middle" fill="#164a55" font-weight="normal" stroke="#164a55" stroke-width="0.3">D</text>
<circle cx="78.00" cy="731.20" r="1.1" fill="#111" stroke="none" stroke-width="0" />
<text x="88.29" y="741.50" font-size="9.6" text-anchor="middle" fill="#5e2410" font-weight="normal" stroke="#5e2410" stroke-width="0.3">G</text>
<circle cx="88.29" cy="731.20" r="1.1" fill="#111" stroke="none" stroke-width="0" />
<text x="98.58" y="741.50" font-size="9.6" text-anchor="middle" fill="#164a55" font-weight="normal" stroke="#164a55" stroke-width="0.3">D</text>
<circle cx="98.58" cy="731.20" r="1.1" fill="#111" stroke="none" stroke-width="0" />
<text x="108.87" y="741.50" font-size="9.6" text-anchor="middle" fill="#1f4a2e" font-weight="normal" stroke="#1f4a2e" stroke-width="0.3">Q</text>
<circle cx="108.87" cy="731.20" r="1.1" fill="#111" stroke="none" stroke-width="0" />
<text x="119.16" y="741.50" font-size="9.6" text-anchor="middle" fill="#6e1208" font-weight="normal" stroke="#6e1208" stroke-width="0.3">C</text>
<circle cx="119.16" cy="731.20" r="1.1" fill="#111" stroke="none" stroke-width="0" />
<text x="129.45" y="741.50" font-size="9.6" text-anchor="middle" fill="#4a3a18" font-weight="normal" stroke="#4a3a18" stroke-width="0.3">E</text>
<text x="139.74" y="741.50" font-size="9.6" text-anchor="middle" fill="#10243e" font-weight="normal" stroke="#10243e" stroke-width="0.3">T</text>
<text x="150.03" y="741.50" font-size="9.6" text-anchor="middle" fill="#4a1f40" font-weight="normal" stroke="#4a1f40" stroke-width="0.3">S</text>
<text x="160.32" y="741.50" font-size="9.6" text-anchor="middle" fill="#2a2a2a" font-weight="normal" stroke="#2a2a2a" stroke-width="0.3">P</text>
<text x="170.61" y="741.50" font-size="9.6" text-anchor="middle" fill="#6e1208" font-weight="normal" stroke="#6e1208" stroke-width="0.3">C</text>
<text x="180.90" y="741.50" font-size="9.6" text-anchor="middle" fill="#1f4a2e" font-weight="normal" stroke="#1f4a2e" stroke-width="0.3">Q</text>
<text x="191.19" y="741.50" font-size="9.6" text-anchor="middle" fill="#222" font-weight="normal" stroke="#222" stroke-width="0.3">N</text>
<text x="201.48" y="741.50" font-size="9.6" text-anchor="middle" fill="#1f4a2e" font-weight="normal" stroke="#1f4a2e" stroke-width="0.3">Q</text>
<text x="211.77" y="741.50" font-size="9.6" text-anchor="middle" fill="#5e2410" font-weight="normal" stroke="#5e2410" stroke-width="0.3">G</text>
<text x="222.06" y="741.50" font-size="9.6" text-anchor="middle" fill="#2a2a2a" font-weight="normal" stroke="#2a2a2a" stroke-width="0.3">K</text>
<text x="232.35" y="741.50" font-size="9.6" text-anchor="middle" fill="#6e1208" font-weight="normal" stroke="#6e1208" stroke-width="0.3">C</text>
<text x="242.64" y="741.50" font-size="9.6" text-anchor="middle" fill="#2a2a2a" font-weight="normal" stroke="#2a2a2a" stroke-width="0.3">K</text>
<text x="252.93" y="741.50" font-size="9.6" text-anchor="middle" fill="#164a55" font-weight="normal" stroke="#164a55" stroke-width="0.3">D</text>
<text x="263.22" y="741.50" font-size="9.6" text-anchor="middle" fill="#5e2410" font-weight="normal" stroke="#5e2410" stroke-width="0.3">G</text>
<text x="273.51" y="741.50" font-size="9.6" text-anchor="middle" fill="#2a2a2a" font-weight="normal" stroke="#2a2a2a" stroke-width="0.3">L</text>
<text x="283.80" y="741.50" font-size="9.6" text-anchor="middle" fill="#5e2410" font-weight="normal" stroke="#5e2410" stroke-width="0.3">G</text>
<text x="294.09" y="741.50" font-size="9.6" text-anchor="middle" fill="#4a3a18" font-weight="normal" stroke="#4a3a18" stroke-width="0.3">E</text>
<text x="304.38" y="741.50" font-size="9.6" text-anchor="middle" fill="#2a2a2a" font-weight="normal" stroke="#2a2a2a" stroke-width="0.3">Y</text>
<text x="314.67" y="741.50" font-size="9.6" text-anchor="middle" fill="#10243e" font-weight="normal" stroke="#10243e" stroke-width="0.3">T</text>
<text x="324.96" y="741.50" font-size="9.6" text-anchor="middle" fill="#6e1208" font-weight="normal" stroke="#6e1208" stroke-width="0.3">C</text>
<text x="335.25" y="741.50" font-size="9.6" text-anchor="middle" fill="#10243e" font-weight="normal" stroke="#10243e" stroke-width="0.3">T</text>
<text x="345.54" y="741.50" font-size="9.6" text-anchor="middle" fill="#6e1208" font-weight="normal" stroke="#6e1208" stroke-width="0.3">C</text>
<text x="355.83" y="741.50" font-size="9.6" text-anchor="middle" fill="#2a2a2a" font-weight="normal" stroke="#2a2a2a" stroke-width="0.3">L</text>
<text x="366.12" y="741.50" font-size="9.6" text-anchor="middle" fill="#4a3a18" font-weight="normal" stroke="#4a3a18" stroke-width="0.3">E</text>
<text x="376.41" y="741.50" font-size="9.6" text-anchor="middle" fill="#5e2410" font-weight="normal" stroke="#5e2410" stroke-width="0.3">G</text>
<text x="386.70" y="741.50" font-size="9.6" text-anchor="middle" fill="#2a2a2a" font-weight="normal" stroke="#2a2a2a" stroke-width="0.3">F</text>
<text x="396.99" y="741.50" font-size="9.6" text-anchor="middle" fill="#4a3a18" font-weight="normal" stroke="#4a3a18" stroke-width="0.3">E</text>
<text x="407.28" y="741.50" font-size="9.6" text-anchor="middle" fill="#5e2410" font-weight="normal" stroke="#5e2410" stroke-width="0.3">G</text>
<text x="417.57" y="741.50" font-size="9.6" text-anchor="middle" fill="#2a2a2a" font-weight="normal" stroke="#2a2a2a" stroke-width="0.3">K</text>
<text x="427.86" y="741.50" font-size="9.6" text-anchor="middle" fill="#222" font-weight="normal" stroke="#222" stroke-width="0.3">N</text>
<text x="438.15" y="741.50" font-size="9.6" text-anchor="middle" fill="#6e1208" font-weight="normal" stroke="#6e1208" stroke-width="0.3">C</text>
<text x="448.44" y="741.50" font-size="9.6" text-anchor="middle" fill="#4a3a18" font-weight="normal" stroke="#4a3a18" stroke-width="0.3">E</text>
<line x1="55.60" y1="696.00" x2="55.60" y2="748.60" stroke="#231f20" stroke-width="1.3" />
<line x1="55.00" y1="748.00" x2="470.00" y2="748.00" stroke="#231f20" stroke-width="1.3" />
<line x1="52.00" y1="705.50" x2="55.60" y2="705.50" stroke="#231f20" stroke-width="1.0" />
<text x="47.80" y="708.80" font-size="9.3" text-anchor="end" fill="#231f20" font-weight="normal" >FIX</text>
<line x1="52.00" y1="722.00" x2="55.60" y2="722.00" stroke="#231f20" stroke-width="1.0" />
<text x="47.80" y="725.30" font-size="9.3" text-anchor="end" fill="#231f20" font-weight="normal" >FVII</text>
<line x1="52.00" y1="738.20" x2="55.60" y2="738.20" stroke="#231f20" stroke-width="1.0" />
<text x="47.80" y="741.50" font-size="9.3" text-anchor="end" fill="#231f20" font-weight="normal" >FX</text>
<text x="248.80" y="759.30" font-size="9.1" text-anchor="start" fill="#231f20" font-weight="normal" >EGF-1</text>
<rect x="0.5" y="0.5" width="519" height="767" fill="none" stroke="#3a3a3a" stroke-width="1.2"/>
</svg></body></html>
